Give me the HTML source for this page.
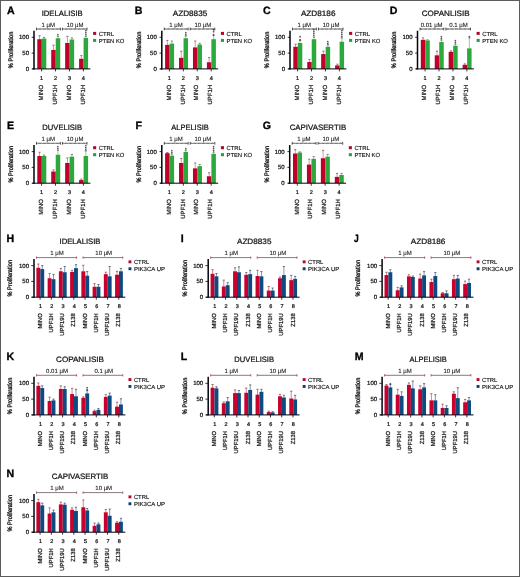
<!DOCTYPE html>
<html lang="en"><head><meta charset="utf-8"><title>Figure</title>
<style>html,body{margin:0;padding:0;background:#fff}svg{display:block;filter:blur(0.45px)}</style>
</head><body>
<svg width="520" height="577" viewBox="0 0 520 577" font-family="'Liberation Sans', Arial, Helvetica, sans-serif" text-rendering="geometricPrecision">
<rect x="0" y="0" width="520" height="577" fill="#fff"/>
<g>
<text transform="translate(7 14.2) scale(1 1)" font-size="10.6" font-weight="bold" fill="#000" stroke="#000" stroke-width="0.32">A</text>
<text x="62.2" y="15.5" font-size="7.8" text-anchor="middle" font-weight="normal" fill="#111" stroke="#111" stroke-width="0.22" textLength="41" lengthAdjust="spacingAndGlyphs">IDELALISIB</text>
<text x="48.2" y="26.6" font-size="6" text-anchor="middle" fill="#1a1a1a" stroke="#1a1a1a" stroke-width="0.1">1 μM</text>
<text x="75.1" y="26.6" font-size="6" text-anchor="middle" fill="#1a1a1a" stroke="#1a1a1a" stroke-width="0.1">10 μM</text>
<line x1="36.5" y1="29" x2="60.3" y2="29" stroke="#858585" stroke-width="0.8"/>
<line x1="36.5" y1="29" x2="60.3" y2="29" stroke="#505050" stroke-width="1.3" stroke-dasharray="0.55 0.75"/>
<line x1="36.5" y1="27.6" x2="36.5" y2="30.4" stroke="#333" stroke-width="0.8"/>
<line x1="60.3" y1="27.6" x2="60.3" y2="30.4" stroke="#333" stroke-width="0.8"/>
<line x1="62.4" y1="29" x2="87" y2="29" stroke="#858585" stroke-width="0.8"/>
<line x1="62.4" y1="29" x2="87" y2="29" stroke="#505050" stroke-width="1.3" stroke-dasharray="0.55 0.75"/>
<line x1="62.4" y1="27.6" x2="62.4" y2="30.4" stroke="#333" stroke-width="0.8"/>
<line x1="87" y1="27.6" x2="87" y2="30.4" stroke="#333" stroke-width="0.8"/>
<line x1="39.55" y1="35.72" x2="39.55" y2="39.5" stroke="#c0607a" stroke-width="0.65"/>
<line x1="38.45" y1="35.72" x2="40.65" y2="35.72" stroke="#7a3844" stroke-width="0.7"/>
<rect x="37.3" y="39.2" width="4.5" height="29.7" fill="#c00028"/>
<line x1="44.05" y1="37.3" x2="44.05" y2="38.86" stroke="#6fa87a" stroke-width="0.65"/>
<line x1="42.95" y1="37.3" x2="45.15" y2="37.3" stroke="#3f5a48" stroke-width="0.7"/>
<rect x="41.8" y="38.56" width="4.5" height="30.34" fill="#2ca83c"/>
<line x1="53.48" y1="45.2" x2="53.48" y2="50.24" stroke="#c0607a" stroke-width="0.65"/>
<line x1="52.38" y1="45.2" x2="54.58" y2="45.2" stroke="#7a3844" stroke-width="0.7"/>
<rect x="51.23" y="49.94" width="4.5" height="18.96" fill="#c00028"/>
<line x1="57.98" y1="36.35" x2="57.98" y2="38.55" stroke="#6fa87a" stroke-width="0.65"/>
<line x1="56.88" y1="36.35" x2="59.08" y2="36.35" stroke="#3f5a48" stroke-width="0.7"/>
<rect x="55.73" y="38.25" width="4.5" height="30.65" fill="#2ca83c"/>
<text x="57.98" y="37.45" font-size="4.5" text-anchor="middle" fill="#2e1014" stroke="#2e1014" stroke-width="0.12">*</text>
<line x1="67.41" y1="36.35" x2="67.41" y2="43.29" stroke="#c0607a" stroke-width="0.65"/>
<line x1="66.31" y1="36.35" x2="68.51" y2="36.35" stroke="#7a3844" stroke-width="0.7"/>
<rect x="65.16" y="42.99" width="4.5" height="25.91" fill="#c00028"/>
<line x1="71.91" y1="37.93" x2="71.91" y2="39.81" stroke="#6fa87a" stroke-width="0.65"/>
<line x1="70.81" y1="37.93" x2="73.01" y2="37.93" stroke="#3f5a48" stroke-width="0.7"/>
<rect x="69.66" y="39.51" width="4.5" height="29.39" fill="#2ca83c"/>
<line x1="81.34" y1="55.63" x2="81.34" y2="59.09" stroke="#c0607a" stroke-width="0.65"/>
<line x1="80.24" y1="55.63" x2="82.44" y2="55.63" stroke="#7a3844" stroke-width="0.7"/>
<rect x="79.09" y="58.79" width="4.5" height="10.11" fill="#c00028"/>
<line x1="85.84" y1="36.35" x2="85.84" y2="38.23" stroke="#6fa87a" stroke-width="0.65"/>
<line x1="84.74" y1="36.35" x2="86.94" y2="36.35" stroke="#3f5a48" stroke-width="0.7"/>
<rect x="83.59" y="37.93" width="4.5" height="30.97" fill="#2ca83c"/>
<text x="85.84" y="37.45" font-size="4.5" text-anchor="middle" fill="#2e1014" stroke="#2e1014" stroke-width="0.12">*</text>
<text x="85.84" y="35.35" font-size="4.5" text-anchor="middle" fill="#2e1014" stroke="#2e1014" stroke-width="0.12">*</text>
<text x="85.84" y="33.25" font-size="4.5" text-anchor="middle" fill="#2e1014" stroke="#2e1014" stroke-width="0.12">*</text>
<line x1="34" y1="30.78" x2="34" y2="69.4" stroke="#02020c" stroke-width="1.5"/>
<line x1="32.4" y1="68.9" x2="90.4" y2="68.9" stroke="#02020c" stroke-width="1.0"/>
<line x1="31.7" y1="68.9" x2="34.2" y2="68.9" stroke="#02020c" stroke-width="0.8"/>
<text x="29" y="70.95" font-size="6.0" text-anchor="end" font-weight="normal" fill="#111" stroke="#111" stroke-width="0.22">0</text>
<line x1="31.7" y1="53.1" x2="34.2" y2="53.1" stroke="#02020c" stroke-width="0.8"/>
<text x="29" y="55.15" font-size="6.0" text-anchor="end" font-weight="normal" fill="#111" stroke="#111" stroke-width="0.22">50</text>
<line x1="31.7" y1="37.3" x2="34.2" y2="37.3" stroke="#02020c" stroke-width="0.8"/>
<text x="29" y="39.35" font-size="6.0" text-anchor="end" font-weight="normal" fill="#111" stroke="#111" stroke-width="0.22">100</text>
<text transform="translate(12.9 49.9) rotate(-90)" font-size="6.5" text-anchor="middle" fill="#111" stroke="#111" stroke-width="0.32" textLength="36.5" lengthAdjust="spacingAndGlyphs">% Proliferation</text>
<line x1="41.6" y1="68.9" x2="41.6" y2="71.4" stroke="#02020c" stroke-width="0.8"/>
<text x="41.6" y="80" font-size="5.5" text-anchor="middle" font-weight="normal" fill="#111" stroke="#111" stroke-width="0.22">1</text>
<text transform="translate(42.8 84.9) rotate(-90)" font-size="6.0" text-anchor="end" fill="#111" stroke="#111" stroke-width="0.22">MINO</text>
<line x1="55.53" y1="68.9" x2="55.53" y2="71.4" stroke="#02020c" stroke-width="0.8"/>
<text x="55.53" y="80" font-size="5.5" text-anchor="middle" font-weight="normal" fill="#111" stroke="#111" stroke-width="0.22">2</text>
<text transform="translate(56.73 84.9) rotate(-90)" font-size="6.0" text-anchor="end" fill="#111" stroke="#111" stroke-width="0.22">UPF1H</text>
<line x1="69.46" y1="68.9" x2="69.46" y2="71.4" stroke="#02020c" stroke-width="0.8"/>
<text x="69.46" y="80" font-size="5.5" text-anchor="middle" font-weight="normal" fill="#111" stroke="#111" stroke-width="0.22">3</text>
<text transform="translate(70.66 84.9) rotate(-90)" font-size="6.0" text-anchor="end" fill="#111" stroke="#111" stroke-width="0.22">MINO</text>
<line x1="83.39" y1="68.9" x2="83.39" y2="71.4" stroke="#02020c" stroke-width="0.8"/>
<text x="83.39" y="80" font-size="5.5" text-anchor="middle" font-weight="normal" fill="#111" stroke="#111" stroke-width="0.22">4</text>
<text transform="translate(84.59 84.9) rotate(-90)" font-size="6.0" text-anchor="end" fill="#111" stroke="#111" stroke-width="0.22">UPF1H</text>
<rect x="93.1" y="31.9" width="3.1" height="3" fill="#b4062a"/>
<text x="98.7" y="35.7" font-size="5.85" fill="#111" stroke="#111" stroke-width="0.14">CTRL</text>
<rect x="93.1" y="38.9" width="3.1" height="3" fill="#2a9a3c"/>
<text x="98.7" y="42.7" font-size="5.85" fill="#111" stroke="#111" stroke-width="0.14">PTEN KO</text>
</g>
<g>
<text transform="translate(134.8 14.2) scale(1 1)" font-size="10.6" font-weight="bold" fill="#000" stroke="#000" stroke-width="0.32">B</text>
<text x="190" y="15.5" font-size="7.8" text-anchor="middle" font-weight="normal" fill="#111" stroke="#111" stroke-width="0.22" textLength="34.5" lengthAdjust="spacingAndGlyphs">AZD8835</text>
<text x="176" y="26.6" font-size="6" text-anchor="middle" fill="#1a1a1a" stroke="#1a1a1a" stroke-width="0.1">1 μM</text>
<text x="202.9" y="26.6" font-size="6" text-anchor="middle" fill="#1a1a1a" stroke="#1a1a1a" stroke-width="0.1">10 μM</text>
<line x1="164.3" y1="29" x2="188.1" y2="29" stroke="#858585" stroke-width="0.8"/>
<line x1="164.3" y1="29" x2="188.1" y2="29" stroke="#505050" stroke-width="1.3" stroke-dasharray="0.55 0.75"/>
<line x1="164.3" y1="27.6" x2="164.3" y2="30.4" stroke="#333" stroke-width="0.8"/>
<line x1="188.1" y1="27.6" x2="188.1" y2="30.4" stroke="#333" stroke-width="0.8"/>
<line x1="190.2" y1="29" x2="214.8" y2="29" stroke="#858585" stroke-width="0.8"/>
<line x1="190.2" y1="29" x2="214.8" y2="29" stroke="#505050" stroke-width="1.3" stroke-dasharray="0.55 0.75"/>
<line x1="190.2" y1="27.6" x2="190.2" y2="30.4" stroke="#333" stroke-width="0.8"/>
<line x1="214.8" y1="27.6" x2="214.8" y2="30.4" stroke="#333" stroke-width="0.8"/>
<line x1="167.35" y1="40.46" x2="167.35" y2="45.18" stroke="#c0607a" stroke-width="0.65"/>
<line x1="166.25" y1="40.46" x2="168.45" y2="40.46" stroke="#7a3844" stroke-width="0.7"/>
<rect x="165.1" y="44.88" width="4.5" height="24.02" fill="#c00028"/>
<line x1="171.85" y1="41.09" x2="171.85" y2="43.92" stroke="#6fa87a" stroke-width="0.65"/>
<line x1="170.75" y1="41.09" x2="172.95" y2="41.09" stroke="#3f5a48" stroke-width="0.7"/>
<rect x="169.6" y="43.62" width="4.5" height="25.28" fill="#2ca83c"/>
<line x1="181.28" y1="51.2" x2="181.28" y2="58.14" stroke="#c0607a" stroke-width="0.65"/>
<line x1="180.18" y1="51.2" x2="182.38" y2="51.2" stroke="#7a3844" stroke-width="0.7"/>
<rect x="179.03" y="57.84" width="4.5" height="11.06" fill="#c00028"/>
<line x1="185.78" y1="36.04" x2="185.78" y2="38.55" stroke="#6fa87a" stroke-width="0.65"/>
<line x1="184.68" y1="36.04" x2="186.88" y2="36.04" stroke="#3f5a48" stroke-width="0.7"/>
<rect x="183.53" y="38.25" width="4.5" height="30.65" fill="#2ca83c"/>
<text x="185.78" y="37.14" font-size="4.5" text-anchor="middle" fill="#2e1014" stroke="#2e1014" stroke-width="0.12">*</text>
<text x="185.78" y="35.04" font-size="4.5" text-anchor="middle" fill="#2e1014" stroke="#2e1014" stroke-width="0.12">*</text>
<line x1="195.21" y1="41.09" x2="195.21" y2="47.71" stroke="#c0607a" stroke-width="0.65"/>
<line x1="194.11" y1="41.09" x2="196.31" y2="41.09" stroke="#7a3844" stroke-width="0.7"/>
<rect x="192.96" y="47.41" width="4.5" height="21.49" fill="#c00028"/>
<line x1="199.71" y1="43.3" x2="199.71" y2="44.87" stroke="#6fa87a" stroke-width="0.65"/>
<line x1="198.61" y1="43.3" x2="200.81" y2="43.3" stroke="#3f5a48" stroke-width="0.7"/>
<rect x="197.46" y="44.57" width="4.5" height="24.33" fill="#2ca83c"/>
<line x1="209.14" y1="57.52" x2="209.14" y2="62.56" stroke="#c0607a" stroke-width="0.65"/>
<line x1="208.04" y1="57.52" x2="210.24" y2="57.52" stroke="#7a3844" stroke-width="0.7"/>
<rect x="206.89" y="62.26" width="4.5" height="6.64" fill="#c00028"/>
<line x1="213.64" y1="35.4" x2="213.64" y2="39.5" stroke="#6fa87a" stroke-width="0.65"/>
<line x1="212.54" y1="35.4" x2="214.74" y2="35.4" stroke="#3f5a48" stroke-width="0.7"/>
<rect x="211.39" y="39.2" width="4.5" height="29.7" fill="#2ca83c"/>
<text x="213.64" y="36.5" font-size="4.5" text-anchor="middle" fill="#2e1014" stroke="#2e1014" stroke-width="0.12">*</text>
<text x="213.64" y="34.4" font-size="4.5" text-anchor="middle" fill="#2e1014" stroke="#2e1014" stroke-width="0.12">*</text>
<text x="213.64" y="32.3" font-size="4.5" text-anchor="middle" fill="#2e1014" stroke="#2e1014" stroke-width="0.12">*</text>
<line x1="161.8" y1="30.78" x2="161.8" y2="69.4" stroke="#02020c" stroke-width="1.5"/>
<line x1="160.2" y1="68.9" x2="218.2" y2="68.9" stroke="#02020c" stroke-width="1.0"/>
<line x1="159.5" y1="68.9" x2="162" y2="68.9" stroke="#02020c" stroke-width="0.8"/>
<text x="156.8" y="70.95" font-size="6.0" text-anchor="end" font-weight="normal" fill="#111" stroke="#111" stroke-width="0.22">0</text>
<line x1="159.5" y1="53.1" x2="162" y2="53.1" stroke="#02020c" stroke-width="0.8"/>
<text x="156.8" y="55.15" font-size="6.0" text-anchor="end" font-weight="normal" fill="#111" stroke="#111" stroke-width="0.22">50</text>
<line x1="159.5" y1="37.3" x2="162" y2="37.3" stroke="#02020c" stroke-width="0.8"/>
<text x="156.8" y="39.35" font-size="6.0" text-anchor="end" font-weight="normal" fill="#111" stroke="#111" stroke-width="0.22">100</text>
<text transform="translate(140.7 49.9) rotate(-90)" font-size="6.5" text-anchor="middle" fill="#111" stroke="#111" stroke-width="0.32" textLength="36.5" lengthAdjust="spacingAndGlyphs">% Proliferation</text>
<line x1="169.4" y1="68.9" x2="169.4" y2="71.4" stroke="#02020c" stroke-width="0.8"/>
<text x="169.4" y="80" font-size="5.5" text-anchor="middle" font-weight="normal" fill="#111" stroke="#111" stroke-width="0.22">1</text>
<text transform="translate(170.6 84.9) rotate(-90)" font-size="6.0" text-anchor="end" fill="#111" stroke="#111" stroke-width="0.22">MINO</text>
<line x1="183.33" y1="68.9" x2="183.33" y2="71.4" stroke="#02020c" stroke-width="0.8"/>
<text x="183.33" y="80" font-size="5.5" text-anchor="middle" font-weight="normal" fill="#111" stroke="#111" stroke-width="0.22">2</text>
<text transform="translate(184.53 84.9) rotate(-90)" font-size="6.0" text-anchor="end" fill="#111" stroke="#111" stroke-width="0.22">UPF1H</text>
<line x1="197.26" y1="68.9" x2="197.26" y2="71.4" stroke="#02020c" stroke-width="0.8"/>
<text x="197.26" y="80" font-size="5.5" text-anchor="middle" font-weight="normal" fill="#111" stroke="#111" stroke-width="0.22">3</text>
<text transform="translate(198.46 84.9) rotate(-90)" font-size="6.0" text-anchor="end" fill="#111" stroke="#111" stroke-width="0.22">MINO</text>
<line x1="211.19" y1="68.9" x2="211.19" y2="71.4" stroke="#02020c" stroke-width="0.8"/>
<text x="211.19" y="80" font-size="5.5" text-anchor="middle" font-weight="normal" fill="#111" stroke="#111" stroke-width="0.22">4</text>
<text transform="translate(212.39 84.9) rotate(-90)" font-size="6.0" text-anchor="end" fill="#111" stroke="#111" stroke-width="0.22">UPF1H</text>
<rect x="220.9" y="31.9" width="3.1" height="3" fill="#b4062a"/>
<text x="226.5" y="35.7" font-size="5.85" fill="#111" stroke="#111" stroke-width="0.14">CTRL</text>
<rect x="220.9" y="38.9" width="3.1" height="3" fill="#2a9a3c"/>
<text x="226.5" y="42.7" font-size="5.85" fill="#111" stroke="#111" stroke-width="0.14">PTEN KO</text>
</g>
<g>
<text transform="translate(263 14.2) scale(1 1)" font-size="10.6" font-weight="bold" fill="#000" stroke="#000" stroke-width="0.32">C</text>
<text x="318.2" y="15.5" font-size="7.8" text-anchor="middle" font-weight="normal" fill="#111" stroke="#111" stroke-width="0.22" textLength="34.6" lengthAdjust="spacingAndGlyphs">AZD8186</text>
<text x="304.2" y="26.6" font-size="6" text-anchor="middle" fill="#1a1a1a" stroke="#1a1a1a" stroke-width="0.1">1 μM</text>
<text x="331.1" y="26.6" font-size="6" text-anchor="middle" fill="#1a1a1a" stroke="#1a1a1a" stroke-width="0.1">10 μM</text>
<line x1="292.5" y1="29" x2="316.3" y2="29" stroke="#858585" stroke-width="0.8"/>
<line x1="292.5" y1="29" x2="316.3" y2="29" stroke="#505050" stroke-width="1.3" stroke-dasharray="0.55 0.75"/>
<line x1="292.5" y1="27.6" x2="292.5" y2="30.4" stroke="#333" stroke-width="0.8"/>
<line x1="316.3" y1="27.6" x2="316.3" y2="30.4" stroke="#333" stroke-width="0.8"/>
<line x1="318.4" y1="29" x2="343" y2="29" stroke="#858585" stroke-width="0.8"/>
<line x1="318.4" y1="29" x2="343" y2="29" stroke="#505050" stroke-width="1.3" stroke-dasharray="0.55 0.75"/>
<line x1="318.4" y1="27.6" x2="318.4" y2="30.4" stroke="#333" stroke-width="0.8"/>
<line x1="343" y1="27.6" x2="343" y2="30.4" stroke="#333" stroke-width="0.8"/>
<line x1="295.55" y1="44.25" x2="295.55" y2="47.08" stroke="#c0607a" stroke-width="0.65"/>
<line x1="294.45" y1="44.25" x2="296.65" y2="44.25" stroke="#7a3844" stroke-width="0.7"/>
<rect x="293.3" y="46.78" width="4.5" height="22.12" fill="#c00028"/>
<line x1="300.05" y1="40.46" x2="300.05" y2="43.29" stroke="#6fa87a" stroke-width="0.65"/>
<line x1="298.95" y1="40.46" x2="301.15" y2="40.46" stroke="#3f5a48" stroke-width="0.7"/>
<rect x="297.8" y="42.99" width="4.5" height="25.91" fill="#2ca83c"/>
<text x="300.05" y="41.56" font-size="4.5" text-anchor="middle" fill="#2e1014" stroke="#2e1014" stroke-width="0.12">*</text>
<text x="300.05" y="39.46" font-size="4.5" text-anchor="middle" fill="#2e1014" stroke="#2e1014" stroke-width="0.12">*</text>
<line x1="309.48" y1="59.42" x2="309.48" y2="62.25" stroke="#c0607a" stroke-width="0.65"/>
<line x1="308.38" y1="59.42" x2="310.58" y2="59.42" stroke="#7a3844" stroke-width="0.7"/>
<rect x="307.23" y="61.95" width="4.5" height="6.95" fill="#c00028"/>
<line x1="313.98" y1="37.3" x2="313.98" y2="39.5" stroke="#6fa87a" stroke-width="0.65"/>
<line x1="312.88" y1="37.3" x2="315.08" y2="37.3" stroke="#3f5a48" stroke-width="0.7"/>
<rect x="311.73" y="39.2" width="4.5" height="29.7" fill="#2ca83c"/>
<text x="313.98" y="38.4" font-size="4.5" text-anchor="middle" fill="#2e1014" stroke="#2e1014" stroke-width="0.12">*</text>
<text x="313.98" y="36.3" font-size="4.5" text-anchor="middle" fill="#2e1014" stroke="#2e1014" stroke-width="0.12">*</text>
<text x="313.98" y="34.2" font-size="4.5" text-anchor="middle" fill="#2e1014" stroke="#2e1014" stroke-width="0.12">*</text>
<text x="313.98" y="32.1" font-size="4.5" text-anchor="middle" fill="#2e1014" stroke="#2e1014" stroke-width="0.12">*</text>
<line x1="323.41" y1="51.2" x2="323.41" y2="54.35" stroke="#c0607a" stroke-width="0.65"/>
<line x1="322.31" y1="51.2" x2="324.51" y2="51.2" stroke="#7a3844" stroke-width="0.7"/>
<rect x="321.16" y="54.05" width="4.5" height="14.85" fill="#c00028"/>
<line x1="327.91" y1="44.88" x2="327.91" y2="47.08" stroke="#6fa87a" stroke-width="0.65"/>
<line x1="326.81" y1="44.88" x2="329.01" y2="44.88" stroke="#3f5a48" stroke-width="0.7"/>
<rect x="325.66" y="46.78" width="4.5" height="22.12" fill="#2ca83c"/>
<text x="327.91" y="45.98" font-size="4.5" text-anchor="middle" fill="#2e1014" stroke="#2e1014" stroke-width="0.12">*</text>
<text x="327.91" y="43.88" font-size="4.5" text-anchor="middle" fill="#2e1014" stroke="#2e1014" stroke-width="0.12">*</text>
<line x1="337.34" y1="64.16" x2="337.34" y2="65.72" stroke="#c0607a" stroke-width="0.65"/>
<line x1="336.24" y1="64.16" x2="338.44" y2="64.16" stroke="#7a3844" stroke-width="0.7"/>
<rect x="335.09" y="65.42" width="4.5" height="3.48" fill="#c00028"/>
<line x1="341.84" y1="37.93" x2="341.84" y2="42.02" stroke="#6fa87a" stroke-width="0.65"/>
<line x1="340.74" y1="37.93" x2="342.94" y2="37.93" stroke="#3f5a48" stroke-width="0.7"/>
<rect x="339.59" y="41.72" width="4.5" height="27.18" fill="#2ca83c"/>
<text x="341.84" y="39.03" font-size="4.5" text-anchor="middle" fill="#2e1014" stroke="#2e1014" stroke-width="0.12">*</text>
<text x="341.84" y="36.93" font-size="4.5" text-anchor="middle" fill="#2e1014" stroke="#2e1014" stroke-width="0.12">*</text>
<text x="341.84" y="34.83" font-size="4.5" text-anchor="middle" fill="#2e1014" stroke="#2e1014" stroke-width="0.12">*</text>
<text x="341.84" y="32.73" font-size="4.5" text-anchor="middle" fill="#2e1014" stroke="#2e1014" stroke-width="0.12">*</text>
<line x1="290" y1="30.78" x2="290" y2="69.4" stroke="#02020c" stroke-width="1.5"/>
<line x1="288.4" y1="68.9" x2="346.4" y2="68.9" stroke="#02020c" stroke-width="1.0"/>
<line x1="287.7" y1="68.9" x2="290.2" y2="68.9" stroke="#02020c" stroke-width="0.8"/>
<text x="285" y="70.95" font-size="6.0" text-anchor="end" font-weight="normal" fill="#111" stroke="#111" stroke-width="0.22">0</text>
<line x1="287.7" y1="53.1" x2="290.2" y2="53.1" stroke="#02020c" stroke-width="0.8"/>
<text x="285" y="55.15" font-size="6.0" text-anchor="end" font-weight="normal" fill="#111" stroke="#111" stroke-width="0.22">50</text>
<line x1="287.7" y1="37.3" x2="290.2" y2="37.3" stroke="#02020c" stroke-width="0.8"/>
<text x="285" y="39.35" font-size="6.0" text-anchor="end" font-weight="normal" fill="#111" stroke="#111" stroke-width="0.22">100</text>
<text transform="translate(268.9 49.9) rotate(-90)" font-size="6.5" text-anchor="middle" fill="#111" stroke="#111" stroke-width="0.32" textLength="36.5" lengthAdjust="spacingAndGlyphs">% Proliferation</text>
<line x1="297.6" y1="68.9" x2="297.6" y2="71.4" stroke="#02020c" stroke-width="0.8"/>
<text x="297.6" y="80" font-size="5.5" text-anchor="middle" font-weight="normal" fill="#111" stroke="#111" stroke-width="0.22">1</text>
<text transform="translate(298.8 84.9) rotate(-90)" font-size="6.0" text-anchor="end" fill="#111" stroke="#111" stroke-width="0.22">MINO</text>
<line x1="311.53" y1="68.9" x2="311.53" y2="71.4" stroke="#02020c" stroke-width="0.8"/>
<text x="311.53" y="80" font-size="5.5" text-anchor="middle" font-weight="normal" fill="#111" stroke="#111" stroke-width="0.22">2</text>
<text transform="translate(312.73 84.9) rotate(-90)" font-size="6.0" text-anchor="end" fill="#111" stroke="#111" stroke-width="0.22">UPF1H</text>
<line x1="325.46" y1="68.9" x2="325.46" y2="71.4" stroke="#02020c" stroke-width="0.8"/>
<text x="325.46" y="80" font-size="5.5" text-anchor="middle" font-weight="normal" fill="#111" stroke="#111" stroke-width="0.22">3</text>
<text transform="translate(326.66 84.9) rotate(-90)" font-size="6.0" text-anchor="end" fill="#111" stroke="#111" stroke-width="0.22">MINO</text>
<line x1="339.39" y1="68.9" x2="339.39" y2="71.4" stroke="#02020c" stroke-width="0.8"/>
<text x="339.39" y="80" font-size="5.5" text-anchor="middle" font-weight="normal" fill="#111" stroke="#111" stroke-width="0.22">4</text>
<text transform="translate(340.59 84.9) rotate(-90)" font-size="6.0" text-anchor="end" fill="#111" stroke="#111" stroke-width="0.22">UPF1H</text>
<rect x="349.1" y="31.9" width="3.1" height="3" fill="#b4062a"/>
<text x="354.7" y="35.7" font-size="5.85" fill="#111" stroke="#111" stroke-width="0.14">CTRL</text>
<rect x="349.1" y="38.9" width="3.1" height="3" fill="#2a9a3c"/>
<text x="354.7" y="42.7" font-size="5.85" fill="#111" stroke="#111" stroke-width="0.14">PTEN KO</text>
</g>
<g>
<text transform="translate(389.7 14.2) scale(1 1)" font-size="10.6" font-weight="bold" fill="#000" stroke="#000" stroke-width="0.32">D</text>
<text x="445.7" y="15.5" font-size="7.8" text-anchor="middle" font-weight="normal" fill="#111" stroke="#111" stroke-width="0.22" textLength="47.9" lengthAdjust="spacingAndGlyphs">COPANLISIB</text>
<text x="431.7" y="26.6" font-size="6" text-anchor="middle" fill="#1a1a1a" stroke="#1a1a1a" stroke-width="0.1">0.01 μM</text>
<text x="458.6" y="26.6" font-size="6" text-anchor="middle" fill="#1a1a1a" stroke="#1a1a1a" stroke-width="0.1">0.1 μM</text>
<line x1="420" y1="29" x2="443.8" y2="29" stroke="#858585" stroke-width="0.8"/>
<line x1="420" y1="29" x2="443.8" y2="29" stroke="#505050" stroke-width="1.3" stroke-dasharray="0.55 0.75"/>
<line x1="420" y1="27.6" x2="420" y2="30.4" stroke="#333" stroke-width="0.8"/>
<line x1="443.8" y1="27.6" x2="443.8" y2="30.4" stroke="#333" stroke-width="0.8"/>
<line x1="445.9" y1="29" x2="470.5" y2="29" stroke="#858585" stroke-width="0.8"/>
<line x1="445.9" y1="29" x2="470.5" y2="29" stroke="#505050" stroke-width="1.3" stroke-dasharray="0.55 0.75"/>
<line x1="445.9" y1="27.6" x2="445.9" y2="30.4" stroke="#333" stroke-width="0.8"/>
<line x1="470.5" y1="27.6" x2="470.5" y2="30.4" stroke="#333" stroke-width="0.8"/>
<line x1="423.05" y1="37.93" x2="423.05" y2="40.13" stroke="#c0607a" stroke-width="0.65"/>
<line x1="421.95" y1="37.93" x2="424.15" y2="37.93" stroke="#7a3844" stroke-width="0.7"/>
<rect x="420.8" y="39.83" width="4.5" height="29.07" fill="#c00028"/>
<line x1="427.55" y1="39.83" x2="427.55" y2="40.76" stroke="#6fa87a" stroke-width="0.65"/>
<line x1="426.45" y1="39.83" x2="428.65" y2="39.83" stroke="#3f5a48" stroke-width="0.7"/>
<rect x="425.3" y="40.46" width="4.5" height="28.44" fill="#2ca83c"/>
<line x1="436.98" y1="51.2" x2="436.98" y2="55.61" stroke="#c0607a" stroke-width="0.65"/>
<line x1="435.88" y1="51.2" x2="438.08" y2="51.2" stroke="#7a3844" stroke-width="0.7"/>
<rect x="434.73" y="55.31" width="4.5" height="13.59" fill="#c00028"/>
<line x1="441.48" y1="40.14" x2="441.48" y2="42.34" stroke="#6fa87a" stroke-width="0.65"/>
<line x1="440.38" y1="40.14" x2="442.58" y2="40.14" stroke="#3f5a48" stroke-width="0.7"/>
<rect x="439.23" y="42.04" width="4.5" height="26.86" fill="#2ca83c"/>
<text x="441.48" y="41.24" font-size="4.5" text-anchor="middle" fill="#2e1014" stroke="#2e1014" stroke-width="0.12">*</text>
<text x="441.48" y="39.14" font-size="4.5" text-anchor="middle" fill="#2e1014" stroke="#2e1014" stroke-width="0.12">*</text>
<line x1="450.91" y1="50.89" x2="450.91" y2="52.14" stroke="#c0607a" stroke-width="0.65"/>
<line x1="449.81" y1="50.89" x2="452.01" y2="50.89" stroke="#7a3844" stroke-width="0.7"/>
<rect x="448.66" y="51.84" width="4.5" height="17.06" fill="#c00028"/>
<line x1="455.41" y1="44.25" x2="455.41" y2="46.13" stroke="#6fa87a" stroke-width="0.65"/>
<line x1="454.31" y1="44.25" x2="456.51" y2="44.25" stroke="#3f5a48" stroke-width="0.7"/>
<rect x="453.16" y="45.83" width="4.5" height="23.07" fill="#2ca83c"/>
<text x="455.41" y="45.35" font-size="4.5" text-anchor="middle" fill="#2e1014" stroke="#2e1014" stroke-width="0.12">*</text>
<text x="455.41" y="43.25" font-size="4.5" text-anchor="middle" fill="#2e1014" stroke="#2e1014" stroke-width="0.12">*</text>
<line x1="464.84" y1="63.84" x2="464.84" y2="65.09" stroke="#c0607a" stroke-width="0.65"/>
<line x1="463.74" y1="63.84" x2="465.94" y2="63.84" stroke="#7a3844" stroke-width="0.7"/>
<rect x="462.59" y="64.79" width="4.5" height="4.11" fill="#c00028"/>
<line x1="469.34" y1="37.93" x2="469.34" y2="48.66" stroke="#6fa87a" stroke-width="0.65"/>
<line x1="468.24" y1="37.93" x2="470.44" y2="37.93" stroke="#3f5a48" stroke-width="0.7"/>
<rect x="467.09" y="48.36" width="4.5" height="20.54" fill="#2ca83c"/>
<text x="469.34" y="39.03" font-size="4.5" text-anchor="middle" fill="#2e1014" stroke="#2e1014" stroke-width="0.12">*</text>
<line x1="417.5" y1="30.78" x2="417.5" y2="69.4" stroke="#02020c" stroke-width="1.5"/>
<line x1="415.9" y1="68.9" x2="473.9" y2="68.9" stroke="#02020c" stroke-width="1.0"/>
<line x1="415.2" y1="68.9" x2="417.7" y2="68.9" stroke="#02020c" stroke-width="0.8"/>
<text x="412.5" y="70.95" font-size="6.0" text-anchor="end" font-weight="normal" fill="#111" stroke="#111" stroke-width="0.22">0</text>
<line x1="415.2" y1="53.1" x2="417.7" y2="53.1" stroke="#02020c" stroke-width="0.8"/>
<text x="412.5" y="55.15" font-size="6.0" text-anchor="end" font-weight="normal" fill="#111" stroke="#111" stroke-width="0.22">50</text>
<line x1="415.2" y1="37.3" x2="417.7" y2="37.3" stroke="#02020c" stroke-width="0.8"/>
<text x="412.5" y="39.35" font-size="6.0" text-anchor="end" font-weight="normal" fill="#111" stroke="#111" stroke-width="0.22">100</text>
<text transform="translate(396.4 49.9) rotate(-90)" font-size="6.5" text-anchor="middle" fill="#111" stroke="#111" stroke-width="0.32" textLength="36.5" lengthAdjust="spacingAndGlyphs">% Proliferation</text>
<line x1="425.1" y1="68.9" x2="425.1" y2="71.4" stroke="#02020c" stroke-width="0.8"/>
<text x="425.1" y="80" font-size="5.5" text-anchor="middle" font-weight="normal" fill="#111" stroke="#111" stroke-width="0.22">1</text>
<text transform="translate(426.3 84.9) rotate(-90)" font-size="6.0" text-anchor="end" fill="#111" stroke="#111" stroke-width="0.22">MINO</text>
<line x1="439.03" y1="68.9" x2="439.03" y2="71.4" stroke="#02020c" stroke-width="0.8"/>
<text x="439.03" y="80" font-size="5.5" text-anchor="middle" font-weight="normal" fill="#111" stroke="#111" stroke-width="0.22">2</text>
<text transform="translate(440.23 84.9) rotate(-90)" font-size="6.0" text-anchor="end" fill="#111" stroke="#111" stroke-width="0.22">UPF1H</text>
<line x1="452.96" y1="68.9" x2="452.96" y2="71.4" stroke="#02020c" stroke-width="0.8"/>
<text x="452.96" y="80" font-size="5.5" text-anchor="middle" font-weight="normal" fill="#111" stroke="#111" stroke-width="0.22">3</text>
<text transform="translate(454.16 84.9) rotate(-90)" font-size="6.0" text-anchor="end" fill="#111" stroke="#111" stroke-width="0.22">MINO</text>
<line x1="466.89" y1="68.9" x2="466.89" y2="71.4" stroke="#02020c" stroke-width="0.8"/>
<text x="466.89" y="80" font-size="5.5" text-anchor="middle" font-weight="normal" fill="#111" stroke="#111" stroke-width="0.22">4</text>
<text transform="translate(468.09 84.9) rotate(-90)" font-size="6.0" text-anchor="end" fill="#111" stroke="#111" stroke-width="0.22">UPF1H</text>
<rect x="476.6" y="31.9" width="3.1" height="3" fill="#b4062a"/>
<text x="482.2" y="35.7" font-size="5.85" fill="#111" stroke="#111" stroke-width="0.14">CTRL</text>
<rect x="476.6" y="38.9" width="3.1" height="3" fill="#2a9a3c"/>
<text x="482.2" y="42.7" font-size="5.85" fill="#111" stroke="#111" stroke-width="0.14">PTEN KO</text>
</g>
<g>
<text transform="translate(7 128.5) scale(1 1)" font-size="10.6" font-weight="bold" fill="#000" stroke="#000" stroke-width="0.32">E</text>
<text x="62.2" y="130.2" font-size="7.8" text-anchor="middle" font-weight="normal" fill="#111" stroke="#111" stroke-width="0.22" textLength="39.7" lengthAdjust="spacingAndGlyphs">DUVELISIB</text>
<text x="48.2" y="140.9" font-size="6" text-anchor="middle" fill="#1a1a1a" stroke="#1a1a1a" stroke-width="0.1">1 μM</text>
<text x="75.1" y="140.9" font-size="6" text-anchor="middle" fill="#1a1a1a" stroke="#1a1a1a" stroke-width="0.1">10 μM</text>
<line x1="36.5" y1="143.3" x2="60.3" y2="143.3" stroke="#858585" stroke-width="0.8"/>
<line x1="36.5" y1="143.3" x2="60.3" y2="143.3" stroke="#505050" stroke-width="1.3" stroke-dasharray="0.55 0.75"/>
<line x1="36.5" y1="141.9" x2="36.5" y2="144.7" stroke="#333" stroke-width="0.8"/>
<line x1="60.3" y1="141.9" x2="60.3" y2="144.7" stroke="#333" stroke-width="0.8"/>
<line x1="62.4" y1="143.3" x2="87" y2="143.3" stroke="#858585" stroke-width="0.8"/>
<line x1="62.4" y1="143.3" x2="87" y2="143.3" stroke="#505050" stroke-width="1.3" stroke-dasharray="0.55 0.75"/>
<line x1="62.4" y1="141.9" x2="62.4" y2="144.7" stroke="#333" stroke-width="0.8"/>
<line x1="87" y1="141.9" x2="87" y2="144.7" stroke="#333" stroke-width="0.8"/>
<line x1="39.55" y1="152.23" x2="39.55" y2="156.32" stroke="#c0607a" stroke-width="0.65"/>
<line x1="38.45" y1="152.23" x2="40.65" y2="152.23" stroke="#7a3844" stroke-width="0.7"/>
<rect x="37.3" y="156.02" width="4.5" height="27.18" fill="#c00028"/>
<line x1="44.05" y1="155.08" x2="44.05" y2="156.32" stroke="#6fa87a" stroke-width="0.65"/>
<line x1="42.95" y1="155.08" x2="45.15" y2="155.08" stroke="#3f5a48" stroke-width="0.7"/>
<rect x="41.8" y="156.02" width="4.5" height="27.18" fill="#2ca83c"/>
<line x1="53.48" y1="169.93" x2="53.48" y2="171.81" stroke="#c0607a" stroke-width="0.65"/>
<line x1="52.38" y1="169.93" x2="54.58" y2="169.93" stroke="#7a3844" stroke-width="0.7"/>
<rect x="51.23" y="171.51" width="4.5" height="11.69" fill="#c00028"/>
<line x1="57.98" y1="150.34" x2="57.98" y2="155.06" stroke="#6fa87a" stroke-width="0.65"/>
<line x1="56.88" y1="150.34" x2="59.08" y2="150.34" stroke="#3f5a48" stroke-width="0.7"/>
<rect x="55.73" y="154.76" width="4.5" height="28.44" fill="#2ca83c"/>
<text x="57.98" y="151.44" font-size="4.5" text-anchor="middle" fill="#2e1014" stroke="#2e1014" stroke-width="0.12">*</text>
<text x="57.98" y="149.34" font-size="4.5" text-anchor="middle" fill="#2e1014" stroke="#2e1014" stroke-width="0.12">*</text>
<line x1="67.41" y1="157.92" x2="67.41" y2="163.28" stroke="#c0607a" stroke-width="0.65"/>
<line x1="66.31" y1="157.92" x2="68.51" y2="157.92" stroke="#7a3844" stroke-width="0.7"/>
<rect x="65.16" y="162.98" width="4.5" height="20.22" fill="#c00028"/>
<line x1="71.91" y1="154.44" x2="71.91" y2="156.96" stroke="#6fa87a" stroke-width="0.65"/>
<line x1="70.81" y1="154.44" x2="73.01" y2="154.44" stroke="#3f5a48" stroke-width="0.7"/>
<rect x="69.66" y="156.66" width="4.5" height="26.54" fill="#2ca83c"/>
<line x1="81.34" y1="179.09" x2="81.34" y2="180.34" stroke="#c0607a" stroke-width="0.65"/>
<line x1="80.24" y1="179.09" x2="82.44" y2="179.09" stroke="#7a3844" stroke-width="0.7"/>
<rect x="79.09" y="180.04" width="4.5" height="3.16" fill="#c00028"/>
<line x1="85.84" y1="150.97" x2="85.84" y2="156.32" stroke="#6fa87a" stroke-width="0.65"/>
<line x1="84.74" y1="150.97" x2="86.94" y2="150.97" stroke="#3f5a48" stroke-width="0.7"/>
<rect x="83.59" y="156.02" width="4.5" height="27.18" fill="#2ca83c"/>
<text x="85.84" y="152.07" font-size="4.5" text-anchor="middle" fill="#2e1014" stroke="#2e1014" stroke-width="0.12">*</text>
<text x="85.84" y="149.97" font-size="4.5" text-anchor="middle" fill="#2e1014" stroke="#2e1014" stroke-width="0.12">*</text>
<text x="85.84" y="147.87" font-size="4.5" text-anchor="middle" fill="#2e1014" stroke="#2e1014" stroke-width="0.12">*</text>
<line x1="34" y1="145.08" x2="34" y2="183.7" stroke="#02020c" stroke-width="1.5"/>
<line x1="32.4" y1="183.2" x2="90.4" y2="183.2" stroke="#02020c" stroke-width="1.0"/>
<line x1="31.7" y1="183.2" x2="34.2" y2="183.2" stroke="#02020c" stroke-width="0.8"/>
<text x="29" y="185.25" font-size="6.0" text-anchor="end" font-weight="normal" fill="#111" stroke="#111" stroke-width="0.22">0</text>
<line x1="31.7" y1="167.4" x2="34.2" y2="167.4" stroke="#02020c" stroke-width="0.8"/>
<text x="29" y="169.45" font-size="6.0" text-anchor="end" font-weight="normal" fill="#111" stroke="#111" stroke-width="0.22">50</text>
<line x1="31.7" y1="151.6" x2="34.2" y2="151.6" stroke="#02020c" stroke-width="0.8"/>
<text x="29" y="153.65" font-size="6.0" text-anchor="end" font-weight="normal" fill="#111" stroke="#111" stroke-width="0.22">100</text>
<text transform="translate(12.9 164.2) rotate(-90)" font-size="6.5" text-anchor="middle" fill="#111" stroke="#111" stroke-width="0.32" textLength="36.5" lengthAdjust="spacingAndGlyphs">% Proliferation</text>
<line x1="41.6" y1="183.2" x2="41.6" y2="185.7" stroke="#02020c" stroke-width="0.8"/>
<text x="41.6" y="194.3" font-size="5.5" text-anchor="middle" font-weight="normal" fill="#111" stroke="#111" stroke-width="0.22">1</text>
<text transform="translate(42.8 199.2) rotate(-90)" font-size="6.0" text-anchor="end" fill="#111" stroke="#111" stroke-width="0.22">MINO</text>
<line x1="55.53" y1="183.2" x2="55.53" y2="185.7" stroke="#02020c" stroke-width="0.8"/>
<text x="55.53" y="194.3" font-size="5.5" text-anchor="middle" font-weight="normal" fill="#111" stroke="#111" stroke-width="0.22">2</text>
<text transform="translate(56.73 199.2) rotate(-90)" font-size="6.0" text-anchor="end" fill="#111" stroke="#111" stroke-width="0.22">UPF1H</text>
<line x1="69.46" y1="183.2" x2="69.46" y2="185.7" stroke="#02020c" stroke-width="0.8"/>
<text x="69.46" y="194.3" font-size="5.5" text-anchor="middle" font-weight="normal" fill="#111" stroke="#111" stroke-width="0.22">3</text>
<text transform="translate(70.66 199.2) rotate(-90)" font-size="6.0" text-anchor="end" fill="#111" stroke="#111" stroke-width="0.22">MINO</text>
<line x1="83.39" y1="183.2" x2="83.39" y2="185.7" stroke="#02020c" stroke-width="0.8"/>
<text x="83.39" y="194.3" font-size="5.5" text-anchor="middle" font-weight="normal" fill="#111" stroke="#111" stroke-width="0.22">4</text>
<text transform="translate(84.59 199.2) rotate(-90)" font-size="6.0" text-anchor="end" fill="#111" stroke="#111" stroke-width="0.22">UPF1H</text>
<rect x="93.1" y="146.2" width="3.1" height="3" fill="#b4062a"/>
<text x="98.7" y="150" font-size="5.85" fill="#111" stroke="#111" stroke-width="0.14">CTRL</text>
<rect x="93.1" y="153.2" width="3.1" height="3" fill="#2a9a3c"/>
<text x="98.7" y="157" font-size="5.85" fill="#111" stroke="#111" stroke-width="0.14">PTEN KO</text>
</g>
<g>
<text transform="translate(135.5 128.5) scale(1 1)" font-size="10.6" font-weight="bold" fill="#000" stroke="#000" stroke-width="0.32">F</text>
<text x="190" y="130.2" font-size="7.8" text-anchor="middle" font-weight="normal" fill="#111" stroke="#111" stroke-width="0.22" textLength="37.4" lengthAdjust="spacingAndGlyphs">ALPELISIB</text>
<text x="176" y="140.9" font-size="6" text-anchor="middle" fill="#1a1a1a" stroke="#1a1a1a" stroke-width="0.1">1 μM</text>
<text x="202.9" y="140.9" font-size="6" text-anchor="middle" fill="#1a1a1a" stroke="#1a1a1a" stroke-width="0.1">10 μM</text>
<line x1="164.3" y1="143.3" x2="188.1" y2="143.3" stroke="#858585" stroke-width="0.8"/>
<line x1="164.3" y1="143.3" x2="188.1" y2="143.3" stroke="#505050" stroke-width="1.3" stroke-dasharray="0.55 0.75"/>
<line x1="164.3" y1="141.9" x2="164.3" y2="144.7" stroke="#333" stroke-width="0.8"/>
<line x1="188.1" y1="141.9" x2="188.1" y2="144.7" stroke="#333" stroke-width="0.8"/>
<line x1="190.2" y1="143.3" x2="214.8" y2="143.3" stroke="#858585" stroke-width="0.8"/>
<line x1="190.2" y1="143.3" x2="214.8" y2="143.3" stroke="#505050" stroke-width="1.3" stroke-dasharray="0.55 0.75"/>
<line x1="190.2" y1="141.9" x2="190.2" y2="144.7" stroke="#333" stroke-width="0.8"/>
<line x1="214.8" y1="141.9" x2="214.8" y2="144.7" stroke="#333" stroke-width="0.8"/>
<line x1="167.35" y1="152.55" x2="167.35" y2="153.48" stroke="#c0607a" stroke-width="0.65"/>
<line x1="166.25" y1="152.55" x2="168.45" y2="152.55" stroke="#7a3844" stroke-width="0.7"/>
<rect x="165.1" y="153.18" width="4.5" height="30.02" fill="#c00028"/>
<line x1="171.85" y1="154.13" x2="171.85" y2="156.01" stroke="#6fa87a" stroke-width="0.65"/>
<line x1="170.75" y1="154.13" x2="172.95" y2="154.13" stroke="#3f5a48" stroke-width="0.7"/>
<rect x="169.6" y="155.71" width="4.5" height="27.49" fill="#2ca83c"/>
<text x="171.85" y="155.23" font-size="4.5" text-anchor="middle" fill="#2e1014" stroke="#2e1014" stroke-width="0.12">*</text>
<text x="171.85" y="153.13" font-size="4.5" text-anchor="middle" fill="#2e1014" stroke="#2e1014" stroke-width="0.12">*</text>
<line x1="181.28" y1="158.55" x2="181.28" y2="163.28" stroke="#c0607a" stroke-width="0.65"/>
<line x1="180.18" y1="158.55" x2="182.38" y2="158.55" stroke="#7a3844" stroke-width="0.7"/>
<rect x="179.03" y="162.98" width="4.5" height="20.22" fill="#c00028"/>
<line x1="185.78" y1="150.34" x2="185.78" y2="152.22" stroke="#6fa87a" stroke-width="0.65"/>
<line x1="184.68" y1="150.34" x2="186.88" y2="150.34" stroke="#3f5a48" stroke-width="0.7"/>
<rect x="183.53" y="151.92" width="4.5" height="31.28" fill="#2ca83c"/>
<text x="185.78" y="151.44" font-size="4.5" text-anchor="middle" fill="#2e1014" stroke="#2e1014" stroke-width="0.12">*</text>
<line x1="195.21" y1="162.98" x2="195.21" y2="168.65" stroke="#c0607a" stroke-width="0.65"/>
<line x1="194.11" y1="162.98" x2="196.31" y2="162.98" stroke="#7a3844" stroke-width="0.7"/>
<rect x="192.96" y="168.35" width="4.5" height="14.85" fill="#c00028"/>
<line x1="199.71" y1="164.56" x2="199.71" y2="166.44" stroke="#6fa87a" stroke-width="0.65"/>
<line x1="198.61" y1="164.56" x2="200.81" y2="164.56" stroke="#3f5a48" stroke-width="0.7"/>
<rect x="197.46" y="166.14" width="4.5" height="17.06" fill="#2ca83c"/>
<line x1="209.14" y1="172.77" x2="209.14" y2="176.55" stroke="#c0607a" stroke-width="0.65"/>
<line x1="208.04" y1="172.77" x2="210.24" y2="172.77" stroke="#7a3844" stroke-width="0.7"/>
<rect x="206.89" y="176.25" width="4.5" height="6.95" fill="#c00028"/>
<line x1="213.64" y1="152.23" x2="213.64" y2="154.11" stroke="#6fa87a" stroke-width="0.65"/>
<line x1="212.54" y1="152.23" x2="214.74" y2="152.23" stroke="#3f5a48" stroke-width="0.7"/>
<rect x="211.39" y="153.81" width="4.5" height="29.39" fill="#2ca83c"/>
<text x="213.64" y="153.33" font-size="4.5" text-anchor="middle" fill="#2e1014" stroke="#2e1014" stroke-width="0.12">*</text>
<text x="213.64" y="151.23" font-size="4.5" text-anchor="middle" fill="#2e1014" stroke="#2e1014" stroke-width="0.12">*</text>
<text x="213.64" y="149.13" font-size="4.5" text-anchor="middle" fill="#2e1014" stroke="#2e1014" stroke-width="0.12">*</text>
<line x1="161.8" y1="145.08" x2="161.8" y2="183.7" stroke="#02020c" stroke-width="1.5"/>
<line x1="160.2" y1="183.2" x2="218.2" y2="183.2" stroke="#02020c" stroke-width="1.0"/>
<line x1="159.5" y1="183.2" x2="162" y2="183.2" stroke="#02020c" stroke-width="0.8"/>
<text x="156.8" y="185.25" font-size="6.0" text-anchor="end" font-weight="normal" fill="#111" stroke="#111" stroke-width="0.22">0</text>
<line x1="159.5" y1="167.4" x2="162" y2="167.4" stroke="#02020c" stroke-width="0.8"/>
<text x="156.8" y="169.45" font-size="6.0" text-anchor="end" font-weight="normal" fill="#111" stroke="#111" stroke-width="0.22">50</text>
<line x1="159.5" y1="151.6" x2="162" y2="151.6" stroke="#02020c" stroke-width="0.8"/>
<text x="156.8" y="153.65" font-size="6.0" text-anchor="end" font-weight="normal" fill="#111" stroke="#111" stroke-width="0.22">100</text>
<text transform="translate(140.7 164.2) rotate(-90)" font-size="6.5" text-anchor="middle" fill="#111" stroke="#111" stroke-width="0.32" textLength="36.5" lengthAdjust="spacingAndGlyphs">% Proliferation</text>
<line x1="169.4" y1="183.2" x2="169.4" y2="185.7" stroke="#02020c" stroke-width="0.8"/>
<text x="169.4" y="194.3" font-size="5.5" text-anchor="middle" font-weight="normal" fill="#111" stroke="#111" stroke-width="0.22">1</text>
<text transform="translate(170.6 199.2) rotate(-90)" font-size="6.0" text-anchor="end" fill="#111" stroke="#111" stroke-width="0.22">MINO</text>
<line x1="183.33" y1="183.2" x2="183.33" y2="185.7" stroke="#02020c" stroke-width="0.8"/>
<text x="183.33" y="194.3" font-size="5.5" text-anchor="middle" font-weight="normal" fill="#111" stroke="#111" stroke-width="0.22">2</text>
<text transform="translate(184.53 199.2) rotate(-90)" font-size="6.0" text-anchor="end" fill="#111" stroke="#111" stroke-width="0.22">UPF1H</text>
<line x1="197.26" y1="183.2" x2="197.26" y2="185.7" stroke="#02020c" stroke-width="0.8"/>
<text x="197.26" y="194.3" font-size="5.5" text-anchor="middle" font-weight="normal" fill="#111" stroke="#111" stroke-width="0.22">3</text>
<text transform="translate(198.46 199.2) rotate(-90)" font-size="6.0" text-anchor="end" fill="#111" stroke="#111" stroke-width="0.22">MINO</text>
<line x1="211.19" y1="183.2" x2="211.19" y2="185.7" stroke="#02020c" stroke-width="0.8"/>
<text x="211.19" y="194.3" font-size="5.5" text-anchor="middle" font-weight="normal" fill="#111" stroke="#111" stroke-width="0.22">4</text>
<text transform="translate(212.39 199.2) rotate(-90)" font-size="6.0" text-anchor="end" fill="#111" stroke="#111" stroke-width="0.22">UPF1H</text>
<rect x="220.9" y="146.2" width="3.1" height="3" fill="#b4062a"/>
<text x="226.5" y="150" font-size="5.85" fill="#111" stroke="#111" stroke-width="0.14">CTRL</text>
<rect x="220.9" y="153.2" width="3.1" height="3" fill="#2a9a3c"/>
<text x="226.5" y="157" font-size="5.85" fill="#111" stroke="#111" stroke-width="0.14">PTEN KO</text>
</g>
<g>
<text transform="translate(262.7 128.5) scale(1 1)" font-size="10.6" font-weight="bold" fill="#000" stroke="#000" stroke-width="0.32">G</text>
<text x="317.9" y="130.2" font-size="7.8" text-anchor="middle" font-weight="normal" fill="#111" stroke="#111" stroke-width="0.22" textLength="56.5" lengthAdjust="spacingAndGlyphs">CAPIVASERTIB</text>
<text x="303.9" y="140.9" font-size="6" text-anchor="middle" fill="#1a1a1a" stroke="#1a1a1a" stroke-width="0.1">1 μM</text>
<text x="330.8" y="140.9" font-size="6" text-anchor="middle" fill="#1a1a1a" stroke="#1a1a1a" stroke-width="0.1">10 μM</text>
<line x1="292.2" y1="143.3" x2="316" y2="143.3" stroke="#858585" stroke-width="0.8"/>
<line x1="292.2" y1="143.3" x2="316" y2="143.3" stroke="#505050" stroke-width="1.3" stroke-dasharray="0.55 0.75"/>
<line x1="292.2" y1="141.9" x2="292.2" y2="144.7" stroke="#333" stroke-width="0.8"/>
<line x1="316" y1="141.9" x2="316" y2="144.7" stroke="#333" stroke-width="0.8"/>
<line x1="318.1" y1="143.3" x2="342.7" y2="143.3" stroke="#858585" stroke-width="0.8"/>
<line x1="318.1" y1="143.3" x2="342.7" y2="143.3" stroke="#505050" stroke-width="1.3" stroke-dasharray="0.55 0.75"/>
<line x1="318.1" y1="141.9" x2="318.1" y2="144.7" stroke="#333" stroke-width="0.8"/>
<line x1="342.7" y1="141.9" x2="342.7" y2="144.7" stroke="#333" stroke-width="0.8"/>
<line x1="295.25" y1="149.7" x2="295.25" y2="153.8" stroke="#c0607a" stroke-width="0.65"/>
<line x1="294.15" y1="149.7" x2="296.35" y2="149.7" stroke="#7a3844" stroke-width="0.7"/>
<rect x="293" y="153.5" width="4.5" height="29.7" fill="#c00028"/>
<line x1="299.75" y1="151.92" x2="299.75" y2="152.85" stroke="#6fa87a" stroke-width="0.65"/>
<line x1="298.65" y1="151.92" x2="300.85" y2="151.92" stroke="#3f5a48" stroke-width="0.7"/>
<rect x="297.5" y="152.55" width="4.5" height="30.65" fill="#2ca83c"/>
<line x1="309.18" y1="159.18" x2="309.18" y2="164.86" stroke="#c0607a" stroke-width="0.65"/>
<line x1="308.08" y1="159.18" x2="310.28" y2="159.18" stroke="#7a3844" stroke-width="0.7"/>
<rect x="306.93" y="164.56" width="4.5" height="18.64" fill="#c00028"/>
<line x1="313.68" y1="156.66" x2="313.68" y2="159.17" stroke="#6fa87a" stroke-width="0.65"/>
<line x1="312.58" y1="156.66" x2="314.78" y2="156.66" stroke="#3f5a48" stroke-width="0.7"/>
<rect x="311.43" y="158.87" width="4.5" height="24.33" fill="#2ca83c"/>
<line x1="323.11" y1="150.34" x2="323.11" y2="158.54" stroke="#c0607a" stroke-width="0.65"/>
<line x1="322.01" y1="150.34" x2="324.21" y2="150.34" stroke="#7a3844" stroke-width="0.7"/>
<rect x="320.86" y="158.24" width="4.5" height="24.96" fill="#c00028"/>
<line x1="327.61" y1="154.44" x2="327.61" y2="156.96" stroke="#6fa87a" stroke-width="0.65"/>
<line x1="326.51" y1="154.44" x2="328.71" y2="154.44" stroke="#3f5a48" stroke-width="0.7"/>
<rect x="325.36" y="156.66" width="4.5" height="26.54" fill="#2ca83c"/>
<line x1="337.04" y1="173.4" x2="337.04" y2="177.18" stroke="#c0607a" stroke-width="0.65"/>
<line x1="335.94" y1="173.4" x2="338.14" y2="173.4" stroke="#7a3844" stroke-width="0.7"/>
<rect x="334.79" y="176.88" width="4.5" height="6.32" fill="#c00028"/>
<line x1="341.54" y1="173.4" x2="341.54" y2="175.28" stroke="#6fa87a" stroke-width="0.65"/>
<line x1="340.44" y1="173.4" x2="342.64" y2="173.4" stroke="#3f5a48" stroke-width="0.7"/>
<rect x="339.29" y="174.98" width="4.5" height="8.22" fill="#2ca83c"/>
<line x1="289.7" y1="145.08" x2="289.7" y2="183.7" stroke="#02020c" stroke-width="1.5"/>
<line x1="288.1" y1="183.2" x2="346.1" y2="183.2" stroke="#02020c" stroke-width="1.0"/>
<line x1="287.4" y1="183.2" x2="289.9" y2="183.2" stroke="#02020c" stroke-width="0.8"/>
<text x="284.7" y="185.25" font-size="6.0" text-anchor="end" font-weight="normal" fill="#111" stroke="#111" stroke-width="0.22">0</text>
<line x1="287.4" y1="167.4" x2="289.9" y2="167.4" stroke="#02020c" stroke-width="0.8"/>
<text x="284.7" y="169.45" font-size="6.0" text-anchor="end" font-weight="normal" fill="#111" stroke="#111" stroke-width="0.22">50</text>
<line x1="287.4" y1="151.6" x2="289.9" y2="151.6" stroke="#02020c" stroke-width="0.8"/>
<text x="284.7" y="153.65" font-size="6.0" text-anchor="end" font-weight="normal" fill="#111" stroke="#111" stroke-width="0.22">100</text>
<text transform="translate(268.6 164.2) rotate(-90)" font-size="6.5" text-anchor="middle" fill="#111" stroke="#111" stroke-width="0.32" textLength="36.5" lengthAdjust="spacingAndGlyphs">% Proliferation</text>
<line x1="297.3" y1="183.2" x2="297.3" y2="185.7" stroke="#02020c" stroke-width="0.8"/>
<text x="297.3" y="194.3" font-size="5.5" text-anchor="middle" font-weight="normal" fill="#111" stroke="#111" stroke-width="0.22">1</text>
<text transform="translate(298.5 199.2) rotate(-90)" font-size="6.0" text-anchor="end" fill="#111" stroke="#111" stroke-width="0.22">MINO</text>
<line x1="311.23" y1="183.2" x2="311.23" y2="185.7" stroke="#02020c" stroke-width="0.8"/>
<text x="311.23" y="194.3" font-size="5.5" text-anchor="middle" font-weight="normal" fill="#111" stroke="#111" stroke-width="0.22">2</text>
<text transform="translate(312.43 199.2) rotate(-90)" font-size="6.0" text-anchor="end" fill="#111" stroke="#111" stroke-width="0.22">UPF1H</text>
<line x1="325.16" y1="183.2" x2="325.16" y2="185.7" stroke="#02020c" stroke-width="0.8"/>
<text x="325.16" y="194.3" font-size="5.5" text-anchor="middle" font-weight="normal" fill="#111" stroke="#111" stroke-width="0.22">3</text>
<text transform="translate(326.36 199.2) rotate(-90)" font-size="6.0" text-anchor="end" fill="#111" stroke="#111" stroke-width="0.22">MINO</text>
<line x1="339.09" y1="183.2" x2="339.09" y2="185.7" stroke="#02020c" stroke-width="0.8"/>
<text x="339.09" y="194.3" font-size="5.5" text-anchor="middle" font-weight="normal" fill="#111" stroke="#111" stroke-width="0.22">4</text>
<text transform="translate(340.29 199.2) rotate(-90)" font-size="6.0" text-anchor="end" fill="#111" stroke="#111" stroke-width="0.22">UPF1H</text>
<rect x="348.8" y="146.2" width="3.1" height="3" fill="#b4062a"/>
<text x="354.4" y="150" font-size="5.85" fill="#111" stroke="#111" stroke-width="0.14">CTRL</text>
<rect x="348.8" y="153.2" width="3.1" height="3" fill="#2a9a3c"/>
<text x="354.4" y="157" font-size="5.85" fill="#111" stroke="#111" stroke-width="0.14">PTEN KO</text>
</g>
<g>
<text transform="translate(6.6 242.2) scale(1 1)" font-size="10.6" font-weight="bold" fill="#000" stroke="#000" stroke-width="0.32">H</text>
<text x="80" y="244.4" font-size="7.8" text-anchor="middle" font-weight="normal" fill="#111" stroke="#111" stroke-width="0.22" textLength="41" lengthAdjust="spacingAndGlyphs">IDELALISIB</text>
<text x="57" y="255.3" font-size="6" text-anchor="middle" fill="#1a1a1a" stroke="#1a1a1a" stroke-width="0.1">1 μM</text>
<text x="103.7" y="255.3" font-size="6" text-anchor="middle" fill="#1a1a1a" stroke="#1a1a1a" stroke-width="0.1">10 μM</text>
<line x1="36.5" y1="257.6" x2="76.6" y2="257.6" stroke="#6e5558" stroke-width="0.8"/>
<line x1="36.5" y1="256.4" x2="36.5" y2="258.8" stroke="#9a3040" stroke-width="0.7"/>
<line x1="76.6" y1="256.4" x2="76.6" y2="258.8" stroke="#9a3040" stroke-width="0.7"/>
<line x1="83" y1="257.6" x2="122.8" y2="257.6" stroke="#6e5558" stroke-width="0.8"/>
<line x1="83" y1="256.4" x2="83" y2="258.8" stroke="#9a3040" stroke-width="0.7"/>
<line x1="122.8" y1="256.4" x2="122.8" y2="258.8" stroke="#9a3040" stroke-width="0.7"/>
<line x1="38.35" y1="264.02" x2="38.35" y2="268.11" stroke="#b8485e" stroke-width="0.65"/>
<line x1="37.25" y1="264.02" x2="39.45" y2="264.02" stroke="#7a3844" stroke-width="0.7"/>
<rect x="36.4" y="267.81" width="3.9" height="29.39" fill="#c8002e"/>
<line x1="42.25" y1="265.6" x2="42.25" y2="269.38" stroke="#3d5f86" stroke-width="0.65"/>
<line x1="41.15" y1="265.6" x2="43.35" y2="265.6" stroke="#2c3f58" stroke-width="0.7"/>
<rect x="40.3" y="269.08" width="3.9" height="28.12" fill="#0e4a80"/>
<line x1="49.59" y1="273.5" x2="49.59" y2="278.54" stroke="#b8485e" stroke-width="0.65"/>
<line x1="48.49" y1="273.5" x2="50.69" y2="273.5" stroke="#7a3844" stroke-width="0.7"/>
<rect x="47.64" y="278.24" width="3.9" height="18.96" fill="#c8002e"/>
<line x1="53.49" y1="274.45" x2="53.49" y2="279.49" stroke="#3d5f86" stroke-width="0.65"/>
<line x1="52.39" y1="274.45" x2="54.59" y2="274.45" stroke="#2c3f58" stroke-width="0.7"/>
<rect x="51.54" y="279.19" width="3.9" height="18.01" fill="#0e4a80"/>
<line x1="60.83" y1="268.44" x2="60.83" y2="271.59" stroke="#b8485e" stroke-width="0.65"/>
<line x1="59.73" y1="268.44" x2="61.93" y2="268.44" stroke="#7a3844" stroke-width="0.7"/>
<rect x="58.88" y="271.29" width="3.9" height="25.91" fill="#c8002e"/>
<line x1="64.73" y1="266.55" x2="64.73" y2="272.54" stroke="#3d5f86" stroke-width="0.65"/>
<line x1="63.63" y1="266.55" x2="65.83" y2="266.55" stroke="#2c3f58" stroke-width="0.7"/>
<rect x="62.78" y="272.24" width="3.9" height="24.96" fill="#0e4a80"/>
<line x1="72.07" y1="270.34" x2="72.07" y2="272.22" stroke="#b8485e" stroke-width="0.65"/>
<line x1="70.97" y1="270.34" x2="73.17" y2="270.34" stroke="#7a3844" stroke-width="0.7"/>
<rect x="70.12" y="271.92" width="3.9" height="25.28" fill="#c8002e"/>
<line x1="75.97" y1="264.65" x2="75.97" y2="268.43" stroke="#3d5f86" stroke-width="0.65"/>
<line x1="74.87" y1="264.65" x2="77.07" y2="264.65" stroke="#2c3f58" stroke-width="0.7"/>
<rect x="74.02" y="268.13" width="3.9" height="29.07" fill="#0e4a80"/>
<line x1="83.31" y1="265.28" x2="83.31" y2="271.59" stroke="#b8485e" stroke-width="0.65"/>
<line x1="82.21" y1="265.28" x2="84.41" y2="265.28" stroke="#7a3844" stroke-width="0.7"/>
<rect x="81.36" y="271.29" width="3.9" height="25.91" fill="#c8002e"/>
<line x1="87.21" y1="271.6" x2="87.21" y2="276.01" stroke="#3d5f86" stroke-width="0.65"/>
<line x1="86.11" y1="271.6" x2="88.31" y2="271.6" stroke="#2c3f58" stroke-width="0.7"/>
<rect x="85.26" y="275.71" width="3.9" height="21.49" fill="#0e4a80"/>
<line x1="94.55" y1="283.61" x2="94.55" y2="287.07" stroke="#b8485e" stroke-width="0.65"/>
<line x1="93.45" y1="283.61" x2="95.65" y2="283.61" stroke="#7a3844" stroke-width="0.7"/>
<rect x="92.6" y="286.77" width="3.9" height="10.43" fill="#c8002e"/>
<line x1="98.45" y1="284.56" x2="98.45" y2="287.07" stroke="#3d5f86" stroke-width="0.65"/>
<line x1="97.35" y1="284.56" x2="99.55" y2="284.56" stroke="#2c3f58" stroke-width="0.7"/>
<rect x="96.5" y="286.77" width="3.9" height="10.43" fill="#0e4a80"/>
<line x1="105.79" y1="272.24" x2="105.79" y2="274.43" stroke="#b8485e" stroke-width="0.65"/>
<line x1="104.69" y1="272.24" x2="106.89" y2="272.24" stroke="#7a3844" stroke-width="0.7"/>
<rect x="103.84" y="274.13" width="3.9" height="23.07" fill="#c8002e"/>
<line x1="109.69" y1="266.55" x2="109.69" y2="276.64" stroke="#3d5f86" stroke-width="0.65"/>
<line x1="108.59" y1="266.55" x2="110.79" y2="266.55" stroke="#2c3f58" stroke-width="0.7"/>
<rect x="107.74" y="276.34" width="3.9" height="20.86" fill="#0e4a80"/>
<line x1="117.03" y1="271.29" x2="117.03" y2="275.06" stroke="#b8485e" stroke-width="0.65"/>
<line x1="115.93" y1="271.29" x2="118.13" y2="271.29" stroke="#7a3844" stroke-width="0.7"/>
<rect x="115.08" y="274.76" width="3.9" height="22.44" fill="#c8002e"/>
<line x1="120.93" y1="268.44" x2="120.93" y2="271.59" stroke="#3d5f86" stroke-width="0.65"/>
<line x1="119.83" y1="268.44" x2="122.03" y2="268.44" stroke="#2c3f58" stroke-width="0.7"/>
<rect x="118.98" y="271.29" width="3.9" height="25.91" fill="#0e4a80"/>
<line x1="34" y1="259.08" x2="34" y2="297.7" stroke="#02020c" stroke-width="1.5"/>
<line x1="31.9" y1="297.2" x2="125.4" y2="297.2" stroke="#02020c" stroke-width="1.0"/>
<line x1="31.2" y1="297.2" x2="33.7" y2="297.2" stroke="#02020c" stroke-width="0.8"/>
<text x="29" y="299.25" font-size="6.0" text-anchor="end" font-weight="normal" fill="#111" stroke="#111" stroke-width="0.22">0</text>
<line x1="31.2" y1="281.4" x2="33.7" y2="281.4" stroke="#02020c" stroke-width="0.8"/>
<text x="29" y="283.45" font-size="6.0" text-anchor="end" font-weight="normal" fill="#111" stroke="#111" stroke-width="0.22">50</text>
<line x1="31.2" y1="265.6" x2="33.7" y2="265.6" stroke="#02020c" stroke-width="0.8"/>
<text x="29" y="267.65" font-size="6.0" text-anchor="end" font-weight="normal" fill="#111" stroke="#111" stroke-width="0.22">100</text>
<text transform="translate(12.3 278.2) rotate(-90)" font-size="6.5" text-anchor="middle" fill="#111" stroke="#111" stroke-width="0.32" textLength="36.5" lengthAdjust="spacingAndGlyphs">% Proliferation</text>
<line x1="40.1" y1="297.2" x2="40.1" y2="299.7" stroke="#02020c" stroke-width="0.8"/>
<text x="40.5" y="308.2" font-size="5.5" text-anchor="middle" font-weight="normal" fill="#111" stroke="#111" stroke-width="0.22">1</text>
<text transform="translate(41.7 313.3) rotate(-90)" font-size="5.85" text-anchor="end" fill="#111" stroke="#111" stroke-width="0.22">MINO</text>
<line x1="51.34" y1="297.2" x2="51.34" y2="299.7" stroke="#02020c" stroke-width="0.8"/>
<text x="51.74" y="308.2" font-size="5.5" text-anchor="middle" font-weight="normal" fill="#111" stroke="#111" stroke-width="0.22">2</text>
<text transform="translate(52.94 313.3) rotate(-90)" font-size="5.85" text-anchor="end" fill="#111" stroke="#111" stroke-width="0.22">UPF1H</text>
<line x1="62.58" y1="297.2" x2="62.58" y2="299.7" stroke="#02020c" stroke-width="0.8"/>
<text x="62.98" y="308.2" font-size="5.5" text-anchor="middle" font-weight="normal" fill="#111" stroke="#111" stroke-width="0.22">3</text>
<text transform="translate(64.18 313.3) rotate(-90)" font-size="5.85" text-anchor="end" fill="#111" stroke="#111" stroke-width="0.22">UPF19U</text>
<line x1="73.82" y1="297.2" x2="73.82" y2="299.7" stroke="#02020c" stroke-width="0.8"/>
<text x="74.22" y="308.2" font-size="5.5" text-anchor="middle" font-weight="normal" fill="#111" stroke="#111" stroke-width="0.22">4</text>
<text transform="translate(75.42 313.3) rotate(-90)" font-size="5.85" text-anchor="end" fill="#111" stroke="#111" stroke-width="0.22">Z138</text>
<line x1="85.06" y1="297.2" x2="85.06" y2="299.7" stroke="#02020c" stroke-width="0.8"/>
<text x="85.46" y="308.2" font-size="5.5" text-anchor="middle" font-weight="normal" fill="#111" stroke="#111" stroke-width="0.22">5</text>
<text transform="translate(86.66 313.3) rotate(-90)" font-size="5.85" text-anchor="end" fill="#111" stroke="#111" stroke-width="0.22">MINO</text>
<line x1="96.3" y1="297.2" x2="96.3" y2="299.7" stroke="#02020c" stroke-width="0.8"/>
<text x="96.7" y="308.2" font-size="5.5" text-anchor="middle" font-weight="normal" fill="#111" stroke="#111" stroke-width="0.22">6</text>
<text transform="translate(97.9 313.3) rotate(-90)" font-size="5.85" text-anchor="end" fill="#111" stroke="#111" stroke-width="0.22">UPF1H</text>
<line x1="107.54" y1="297.2" x2="107.54" y2="299.7" stroke="#02020c" stroke-width="0.8"/>
<text x="107.94" y="308.2" font-size="5.5" text-anchor="middle" font-weight="normal" fill="#111" stroke="#111" stroke-width="0.22">7</text>
<text transform="translate(109.14 313.3) rotate(-90)" font-size="5.85" text-anchor="end" fill="#111" stroke="#111" stroke-width="0.22">UPF19U</text>
<line x1="118.78" y1="297.2" x2="118.78" y2="299.7" stroke="#02020c" stroke-width="0.8"/>
<text x="119.18" y="308.2" font-size="5.5" text-anchor="middle" font-weight="normal" fill="#111" stroke="#111" stroke-width="0.22">8</text>
<text transform="translate(120.38 313.3) rotate(-90)" font-size="5.85" text-anchor="end" fill="#111" stroke="#111" stroke-width="0.22">Z138</text>
<rect x="128.5" y="260.4" width="2.9" height="2.9" fill="#b8062c"/>
<text x="133.9" y="264.2" font-size="5.85" fill="#111" stroke="#111" stroke-width="0.14">CTRL</text>
<rect x="128.5" y="267.3" width="2.9" height="2.9" fill="#0c3f70"/>
<text x="133.9" y="271.1" font-size="5.85" fill="#111" stroke="#111" stroke-width="0.14" textLength="31.2" lengthAdjust="spacingAndGlyphs">PIK3CA UP</text>
</g>
<g>
<text transform="translate(180.8 242.2) scale(1 1)" font-size="10.6" font-weight="bold" fill="#000" stroke="#000" stroke-width="0.32">I</text>
<text x="254.2" y="244.4" font-size="7.8" text-anchor="middle" font-weight="normal" fill="#111" stroke="#111" stroke-width="0.22" textLength="34.5" lengthAdjust="spacingAndGlyphs">AZD8835</text>
<text x="231.2" y="255.3" font-size="6" text-anchor="middle" fill="#1a1a1a" stroke="#1a1a1a" stroke-width="0.1">1 μM</text>
<text x="277.9" y="255.3" font-size="6" text-anchor="middle" fill="#1a1a1a" stroke="#1a1a1a" stroke-width="0.1">10 μM</text>
<line x1="210.7" y1="257.6" x2="250.8" y2="257.6" stroke="#6e5558" stroke-width="0.8"/>
<line x1="210.7" y1="256.4" x2="210.7" y2="258.8" stroke="#9a3040" stroke-width="0.7"/>
<line x1="250.8" y1="256.4" x2="250.8" y2="258.8" stroke="#9a3040" stroke-width="0.7"/>
<line x1="257.2" y1="257.6" x2="297" y2="257.6" stroke="#6e5558" stroke-width="0.8"/>
<line x1="257.2" y1="256.4" x2="257.2" y2="258.8" stroke="#9a3040" stroke-width="0.7"/>
<line x1="297" y1="256.4" x2="297" y2="258.8" stroke="#9a3040" stroke-width="0.7"/>
<line x1="212.55" y1="269.71" x2="212.55" y2="274.12" stroke="#b8485e" stroke-width="0.65"/>
<line x1="211.45" y1="269.71" x2="213.65" y2="269.71" stroke="#7a3844" stroke-width="0.7"/>
<rect x="210.6" y="273.82" width="3.9" height="23.38" fill="#c8002e"/>
<line x1="216.45" y1="273.5" x2="216.45" y2="276.64" stroke="#3d5f86" stroke-width="0.65"/>
<line x1="215.35" y1="273.5" x2="217.55" y2="273.5" stroke="#2c3f58" stroke-width="0.7"/>
<rect x="214.5" y="276.34" width="3.9" height="20.86" fill="#0e4a80"/>
<line x1="223.79" y1="280.14" x2="223.79" y2="286.76" stroke="#b8485e" stroke-width="0.65"/>
<line x1="222.69" y1="280.14" x2="224.89" y2="280.14" stroke="#7a3844" stroke-width="0.7"/>
<rect x="221.84" y="286.46" width="3.9" height="10.74" fill="#c8002e"/>
<line x1="227.69" y1="282.66" x2="227.69" y2="285.49" stroke="#3d5f86" stroke-width="0.65"/>
<line x1="226.59" y1="282.66" x2="228.79" y2="282.66" stroke="#2c3f58" stroke-width="0.7"/>
<rect x="225.74" y="285.19" width="3.9" height="12.01" fill="#0e4a80"/>
<line x1="235.03" y1="267.81" x2="235.03" y2="271.59" stroke="#b8485e" stroke-width="0.65"/>
<line x1="233.93" y1="267.81" x2="236.13" y2="267.81" stroke="#7a3844" stroke-width="0.7"/>
<rect x="233.08" y="271.29" width="3.9" height="25.91" fill="#c8002e"/>
<line x1="238.93" y1="266.86" x2="238.93" y2="272.54" stroke="#3d5f86" stroke-width="0.65"/>
<line x1="237.83" y1="266.86" x2="240.03" y2="266.86" stroke="#2c3f58" stroke-width="0.7"/>
<rect x="236.98" y="272.24" width="3.9" height="24.96" fill="#0e4a80"/>
<line x1="246.27" y1="272.55" x2="246.27" y2="275.06" stroke="#b8485e" stroke-width="0.65"/>
<line x1="245.17" y1="272.55" x2="247.37" y2="272.55" stroke="#7a3844" stroke-width="0.7"/>
<rect x="244.32" y="274.76" width="3.9" height="22.44" fill="#c8002e"/>
<line x1="250.17" y1="270.34" x2="250.17" y2="274.43" stroke="#3d5f86" stroke-width="0.65"/>
<line x1="249.07" y1="270.34" x2="251.27" y2="270.34" stroke="#2c3f58" stroke-width="0.7"/>
<rect x="248.22" y="274.13" width="3.9" height="23.07" fill="#0e4a80"/>
<line x1="257.51" y1="270.34" x2="257.51" y2="276.33" stroke="#b8485e" stroke-width="0.65"/>
<line x1="256.41" y1="270.34" x2="258.61" y2="270.34" stroke="#7a3844" stroke-width="0.7"/>
<rect x="255.56" y="276.03" width="3.9" height="21.17" fill="#c8002e"/>
<line x1="261.41" y1="271.6" x2="261.41" y2="276.64" stroke="#3d5f86" stroke-width="0.65"/>
<line x1="260.31" y1="271.6" x2="262.51" y2="271.6" stroke="#2c3f58" stroke-width="0.7"/>
<rect x="259.46" y="276.34" width="3.9" height="20.86" fill="#0e4a80"/>
<line x1="268.75" y1="286.46" x2="268.75" y2="290.86" stroke="#b8485e" stroke-width="0.65"/>
<line x1="267.65" y1="286.46" x2="269.85" y2="286.46" stroke="#7a3844" stroke-width="0.7"/>
<rect x="266.8" y="290.56" width="3.9" height="6.64" fill="#c8002e"/>
<line x1="272.65" y1="288.04" x2="272.65" y2="290.86" stroke="#3d5f86" stroke-width="0.65"/>
<line x1="271.55" y1="288.04" x2="273.75" y2="288.04" stroke="#2c3f58" stroke-width="0.7"/>
<rect x="270.7" y="290.56" width="3.9" height="6.64" fill="#0e4a80"/>
<line x1="279.99" y1="276.98" x2="279.99" y2="278.54" stroke="#b8485e" stroke-width="0.65"/>
<line x1="278.89" y1="276.98" x2="281.09" y2="276.98" stroke="#7a3844" stroke-width="0.7"/>
<rect x="278.04" y="278.24" width="3.9" height="18.96" fill="#c8002e"/>
<line x1="283.89" y1="266.55" x2="283.89" y2="275.38" stroke="#3d5f86" stroke-width="0.65"/>
<line x1="282.79" y1="266.55" x2="284.99" y2="266.55" stroke="#2c3f58" stroke-width="0.7"/>
<rect x="281.94" y="275.08" width="3.9" height="22.12" fill="#0e4a80"/>
<line x1="291.23" y1="275.4" x2="291.23" y2="280.44" stroke="#b8485e" stroke-width="0.65"/>
<line x1="290.13" y1="275.4" x2="292.33" y2="275.4" stroke="#7a3844" stroke-width="0.7"/>
<rect x="289.28" y="280.14" width="3.9" height="17.06" fill="#c8002e"/>
<line x1="295.13" y1="276.34" x2="295.13" y2="279.17" stroke="#3d5f86" stroke-width="0.65"/>
<line x1="294.03" y1="276.34" x2="296.23" y2="276.34" stroke="#2c3f58" stroke-width="0.7"/>
<rect x="293.18" y="278.87" width="3.9" height="18.33" fill="#0e4a80"/>
<line x1="208.2" y1="259.08" x2="208.2" y2="297.7" stroke="#02020c" stroke-width="1.5"/>
<line x1="206.1" y1="297.2" x2="299.6" y2="297.2" stroke="#02020c" stroke-width="1.0"/>
<line x1="205.4" y1="297.2" x2="207.9" y2="297.2" stroke="#02020c" stroke-width="0.8"/>
<text x="203.2" y="299.25" font-size="6.0" text-anchor="end" font-weight="normal" fill="#111" stroke="#111" stroke-width="0.22">0</text>
<line x1="205.4" y1="281.4" x2="207.9" y2="281.4" stroke="#02020c" stroke-width="0.8"/>
<text x="203.2" y="283.45" font-size="6.0" text-anchor="end" font-weight="normal" fill="#111" stroke="#111" stroke-width="0.22">50</text>
<line x1="205.4" y1="265.6" x2="207.9" y2="265.6" stroke="#02020c" stroke-width="0.8"/>
<text x="203.2" y="267.65" font-size="6.0" text-anchor="end" font-weight="normal" fill="#111" stroke="#111" stroke-width="0.22">100</text>
<text transform="translate(186.5 278.2) rotate(-90)" font-size="6.5" text-anchor="middle" fill="#111" stroke="#111" stroke-width="0.32" textLength="36.5" lengthAdjust="spacingAndGlyphs">% Proliferation</text>
<line x1="214.3" y1="297.2" x2="214.3" y2="299.7" stroke="#02020c" stroke-width="0.8"/>
<text x="214.7" y="308.2" font-size="5.5" text-anchor="middle" font-weight="normal" fill="#111" stroke="#111" stroke-width="0.22">1</text>
<text transform="translate(215.9 313.3) rotate(-90)" font-size="5.85" text-anchor="end" fill="#111" stroke="#111" stroke-width="0.22">MINO</text>
<line x1="225.54" y1="297.2" x2="225.54" y2="299.7" stroke="#02020c" stroke-width="0.8"/>
<text x="225.94" y="308.2" font-size="5.5" text-anchor="middle" font-weight="normal" fill="#111" stroke="#111" stroke-width="0.22">2</text>
<text transform="translate(227.14 313.3) rotate(-90)" font-size="5.85" text-anchor="end" fill="#111" stroke="#111" stroke-width="0.22">UPF1H</text>
<line x1="236.78" y1="297.2" x2="236.78" y2="299.7" stroke="#02020c" stroke-width="0.8"/>
<text x="237.18" y="308.2" font-size="5.5" text-anchor="middle" font-weight="normal" fill="#111" stroke="#111" stroke-width="0.22">3</text>
<text transform="translate(238.38 313.3) rotate(-90)" font-size="5.85" text-anchor="end" fill="#111" stroke="#111" stroke-width="0.22">UPF19U</text>
<line x1="248.02" y1="297.2" x2="248.02" y2="299.7" stroke="#02020c" stroke-width="0.8"/>
<text x="248.42" y="308.2" font-size="5.5" text-anchor="middle" font-weight="normal" fill="#111" stroke="#111" stroke-width="0.22">4</text>
<text transform="translate(249.62 313.3) rotate(-90)" font-size="5.85" text-anchor="end" fill="#111" stroke="#111" stroke-width="0.22">Z138</text>
<line x1="259.26" y1="297.2" x2="259.26" y2="299.7" stroke="#02020c" stroke-width="0.8"/>
<text x="259.66" y="308.2" font-size="5.5" text-anchor="middle" font-weight="normal" fill="#111" stroke="#111" stroke-width="0.22">5</text>
<text transform="translate(260.86 313.3) rotate(-90)" font-size="5.85" text-anchor="end" fill="#111" stroke="#111" stroke-width="0.22">MINO</text>
<line x1="270.5" y1="297.2" x2="270.5" y2="299.7" stroke="#02020c" stroke-width="0.8"/>
<text x="270.9" y="308.2" font-size="5.5" text-anchor="middle" font-weight="normal" fill="#111" stroke="#111" stroke-width="0.22">6</text>
<text transform="translate(272.1 313.3) rotate(-90)" font-size="5.85" text-anchor="end" fill="#111" stroke="#111" stroke-width="0.22">UPF1H</text>
<line x1="281.74" y1="297.2" x2="281.74" y2="299.7" stroke="#02020c" stroke-width="0.8"/>
<text x="282.14" y="308.2" font-size="5.5" text-anchor="middle" font-weight="normal" fill="#111" stroke="#111" stroke-width="0.22">7</text>
<text transform="translate(283.34 313.3) rotate(-90)" font-size="5.85" text-anchor="end" fill="#111" stroke="#111" stroke-width="0.22">UPF19U</text>
<line x1="292.98" y1="297.2" x2="292.98" y2="299.7" stroke="#02020c" stroke-width="0.8"/>
<text x="293.38" y="308.2" font-size="5.5" text-anchor="middle" font-weight="normal" fill="#111" stroke="#111" stroke-width="0.22">8</text>
<text transform="translate(294.58 313.3) rotate(-90)" font-size="5.85" text-anchor="end" fill="#111" stroke="#111" stroke-width="0.22">Z138</text>
<rect x="302.7" y="260.4" width="2.9" height="2.9" fill="#b8062c"/>
<text x="308.1" y="264.2" font-size="5.85" fill="#111" stroke="#111" stroke-width="0.14">CTRL</text>
<rect x="302.7" y="267.3" width="2.9" height="2.9" fill="#0c3f70"/>
<text x="308.1" y="271.1" font-size="5.85" fill="#111" stroke="#111" stroke-width="0.14" textLength="31.2" lengthAdjust="spacingAndGlyphs">PIK3CA UP</text>
</g>
<g>
<text transform="translate(354 242.2) scale(0.8 1)" font-size="10.6" font-weight="bold" fill="#000" stroke="#000" stroke-width="0.32">J</text>
<text x="428.1" y="244.4" font-size="7.8" text-anchor="middle" font-weight="normal" fill="#111" stroke="#111" stroke-width="0.22" textLength="34.6" lengthAdjust="spacingAndGlyphs">AZD8186</text>
<text x="405.1" y="255.3" font-size="6" text-anchor="middle" fill="#1a1a1a" stroke="#1a1a1a" stroke-width="0.1">1 μM</text>
<text x="451.8" y="255.3" font-size="6" text-anchor="middle" fill="#1a1a1a" stroke="#1a1a1a" stroke-width="0.1">10 μM</text>
<line x1="384.6" y1="257.6" x2="424.7" y2="257.6" stroke="#6e5558" stroke-width="0.8"/>
<line x1="384.6" y1="256.4" x2="384.6" y2="258.8" stroke="#9a3040" stroke-width="0.7"/>
<line x1="424.7" y1="256.4" x2="424.7" y2="258.8" stroke="#9a3040" stroke-width="0.7"/>
<line x1="431.1" y1="257.6" x2="470.9" y2="257.6" stroke="#6e5558" stroke-width="0.8"/>
<line x1="431.1" y1="256.4" x2="431.1" y2="258.8" stroke="#9a3040" stroke-width="0.7"/>
<line x1="470.9" y1="256.4" x2="470.9" y2="258.8" stroke="#9a3040" stroke-width="0.7"/>
<line x1="386.45" y1="272.24" x2="386.45" y2="275.38" stroke="#b8485e" stroke-width="0.65"/>
<line x1="385.35" y1="272.24" x2="387.55" y2="272.24" stroke="#7a3844" stroke-width="0.7"/>
<rect x="384.5" y="275.08" width="3.9" height="22.12" fill="#c8002e"/>
<line x1="390.35" y1="269.71" x2="390.35" y2="272.54" stroke="#3d5f86" stroke-width="0.65"/>
<line x1="389.25" y1="269.71" x2="391.45" y2="269.71" stroke="#2c3f58" stroke-width="0.7"/>
<rect x="388.4" y="272.24" width="3.9" height="24.96" fill="#0e4a80"/>
<line x1="397.69" y1="287.4" x2="397.69" y2="290.55" stroke="#b8485e" stroke-width="0.65"/>
<line x1="396.59" y1="287.4" x2="398.79" y2="287.4" stroke="#7a3844" stroke-width="0.7"/>
<rect x="395.74" y="290.25" width="3.9" height="6.95" fill="#c8002e"/>
<line x1="401.59" y1="285.82" x2="401.59" y2="287.7" stroke="#3d5f86" stroke-width="0.65"/>
<line x1="400.49" y1="285.82" x2="402.69" y2="285.82" stroke="#2c3f58" stroke-width="0.7"/>
<rect x="399.64" y="287.4" width="3.9" height="9.8" fill="#0e4a80"/>
<line x1="408.93" y1="274.76" x2="408.93" y2="276.64" stroke="#b8485e" stroke-width="0.65"/>
<line x1="407.83" y1="274.76" x2="410.03" y2="274.76" stroke="#7a3844" stroke-width="0.7"/>
<rect x="406.98" y="276.34" width="3.9" height="20.86" fill="#c8002e"/>
<line x1="412.83" y1="276.03" x2="412.83" y2="277.28" stroke="#3d5f86" stroke-width="0.65"/>
<line x1="411.73" y1="276.03" x2="413.93" y2="276.03" stroke="#2c3f58" stroke-width="0.7"/>
<rect x="410.88" y="276.98" width="3.9" height="20.22" fill="#0e4a80"/>
<line x1="420.17" y1="274.13" x2="420.17" y2="278.86" stroke="#b8485e" stroke-width="0.65"/>
<line x1="419.07" y1="274.13" x2="421.27" y2="274.13" stroke="#7a3844" stroke-width="0.7"/>
<rect x="418.22" y="278.56" width="3.9" height="18.64" fill="#c8002e"/>
<line x1="424.07" y1="271.6" x2="424.07" y2="275.7" stroke="#3d5f86" stroke-width="0.65"/>
<line x1="422.97" y1="271.6" x2="425.17" y2="271.6" stroke="#2c3f58" stroke-width="0.7"/>
<rect x="422.12" y="275.4" width="3.9" height="21.8" fill="#0e4a80"/>
<line x1="431.41" y1="279.19" x2="431.41" y2="282.33" stroke="#b8485e" stroke-width="0.65"/>
<line x1="430.31" y1="279.19" x2="432.51" y2="279.19" stroke="#7a3844" stroke-width="0.7"/>
<rect x="429.46" y="282.03" width="3.9" height="15.17" fill="#c8002e"/>
<line x1="435.31" y1="272.55" x2="435.31" y2="276.33" stroke="#3d5f86" stroke-width="0.65"/>
<line x1="434.21" y1="272.55" x2="436.41" y2="272.55" stroke="#2c3f58" stroke-width="0.7"/>
<rect x="433.36" y="276.03" width="3.9" height="21.17" fill="#0e4a80"/>
<line x1="442.65" y1="292.46" x2="442.65" y2="293.55" stroke="#b8485e" stroke-width="0.65"/>
<line x1="441.55" y1="292.46" x2="443.75" y2="292.46" stroke="#7a3844" stroke-width="0.7"/>
<rect x="440.7" y="293.25" width="3.9" height="3.95" fill="#c8002e"/>
<line x1="446.55" y1="290.88" x2="446.55" y2="293.55" stroke="#3d5f86" stroke-width="0.65"/>
<line x1="445.45" y1="290.88" x2="447.65" y2="290.88" stroke="#2c3f58" stroke-width="0.7"/>
<rect x="444.6" y="293.25" width="3.9" height="3.95" fill="#0e4a80"/>
<line x1="453.89" y1="275.4" x2="453.89" y2="279.49" stroke="#b8485e" stroke-width="0.65"/>
<line x1="452.79" y1="275.4" x2="454.99" y2="275.4" stroke="#7a3844" stroke-width="0.7"/>
<rect x="451.94" y="279.19" width="3.9" height="18.01" fill="#c8002e"/>
<line x1="457.79" y1="275.4" x2="457.79" y2="278.86" stroke="#3d5f86" stroke-width="0.65"/>
<line x1="456.69" y1="275.4" x2="458.89" y2="275.4" stroke="#2c3f58" stroke-width="0.7"/>
<rect x="455.84" y="278.56" width="3.9" height="18.64" fill="#0e4a80"/>
<line x1="465.13" y1="281.08" x2="465.13" y2="284.39" stroke="#b8485e" stroke-width="0.65"/>
<line x1="464.03" y1="281.08" x2="466.23" y2="281.08" stroke="#7a3844" stroke-width="0.7"/>
<rect x="463.18" y="284.09" width="3.9" height="13.11" fill="#c8002e"/>
<line x1="469.03" y1="279.19" x2="469.03" y2="283.28" stroke="#3d5f86" stroke-width="0.65"/>
<line x1="467.93" y1="279.19" x2="470.13" y2="279.19" stroke="#2c3f58" stroke-width="0.7"/>
<rect x="467.08" y="282.98" width="3.9" height="14.22" fill="#0e4a80"/>
<line x1="382.1" y1="259.08" x2="382.1" y2="297.7" stroke="#02020c" stroke-width="1.5"/>
<line x1="380" y1="297.2" x2="473.5" y2="297.2" stroke="#02020c" stroke-width="1.0"/>
<line x1="379.3" y1="297.2" x2="381.8" y2="297.2" stroke="#02020c" stroke-width="0.8"/>
<text x="377.1" y="299.25" font-size="6.0" text-anchor="end" font-weight="normal" fill="#111" stroke="#111" stroke-width="0.22">0</text>
<line x1="379.3" y1="281.4" x2="381.8" y2="281.4" stroke="#02020c" stroke-width="0.8"/>
<text x="377.1" y="283.45" font-size="6.0" text-anchor="end" font-weight="normal" fill="#111" stroke="#111" stroke-width="0.22">50</text>
<line x1="379.3" y1="265.6" x2="381.8" y2="265.6" stroke="#02020c" stroke-width="0.8"/>
<text x="377.1" y="267.65" font-size="6.0" text-anchor="end" font-weight="normal" fill="#111" stroke="#111" stroke-width="0.22">100</text>
<text transform="translate(360.4 278.2) rotate(-90)" font-size="6.5" text-anchor="middle" fill="#111" stroke="#111" stroke-width="0.32" textLength="36.5" lengthAdjust="spacingAndGlyphs">% Proliferation</text>
<line x1="388.2" y1="297.2" x2="388.2" y2="299.7" stroke="#02020c" stroke-width="0.8"/>
<text x="388.6" y="308.2" font-size="5.5" text-anchor="middle" font-weight="normal" fill="#111" stroke="#111" stroke-width="0.22">1</text>
<text transform="translate(389.8 313.3) rotate(-90)" font-size="5.85" text-anchor="end" fill="#111" stroke="#111" stroke-width="0.22">MINO</text>
<line x1="399.44" y1="297.2" x2="399.44" y2="299.7" stroke="#02020c" stroke-width="0.8"/>
<text x="399.84" y="308.2" font-size="5.5" text-anchor="middle" font-weight="normal" fill="#111" stroke="#111" stroke-width="0.22">2</text>
<text transform="translate(401.04 313.3) rotate(-90)" font-size="5.85" text-anchor="end" fill="#111" stroke="#111" stroke-width="0.22">UPF1H</text>
<line x1="410.68" y1="297.2" x2="410.68" y2="299.7" stroke="#02020c" stroke-width="0.8"/>
<text x="411.08" y="308.2" font-size="5.5" text-anchor="middle" font-weight="normal" fill="#111" stroke="#111" stroke-width="0.22">3</text>
<text transform="translate(412.28 313.3) rotate(-90)" font-size="5.85" text-anchor="end" fill="#111" stroke="#111" stroke-width="0.22">UPF19U</text>
<line x1="421.92" y1="297.2" x2="421.92" y2="299.7" stroke="#02020c" stroke-width="0.8"/>
<text x="422.32" y="308.2" font-size="5.5" text-anchor="middle" font-weight="normal" fill="#111" stroke="#111" stroke-width="0.22">4</text>
<text transform="translate(423.52 313.3) rotate(-90)" font-size="5.85" text-anchor="end" fill="#111" stroke="#111" stroke-width="0.22">Z138</text>
<line x1="433.16" y1="297.2" x2="433.16" y2="299.7" stroke="#02020c" stroke-width="0.8"/>
<text x="433.56" y="308.2" font-size="5.5" text-anchor="middle" font-weight="normal" fill="#111" stroke="#111" stroke-width="0.22">5</text>
<text transform="translate(434.76 313.3) rotate(-90)" font-size="5.85" text-anchor="end" fill="#111" stroke="#111" stroke-width="0.22">MINO</text>
<line x1="444.4" y1="297.2" x2="444.4" y2="299.7" stroke="#02020c" stroke-width="0.8"/>
<text x="444.8" y="308.2" font-size="5.5" text-anchor="middle" font-weight="normal" fill="#111" stroke="#111" stroke-width="0.22">6</text>
<text transform="translate(446 313.3) rotate(-90)" font-size="5.85" text-anchor="end" fill="#111" stroke="#111" stroke-width="0.22">UPF1H</text>
<line x1="455.64" y1="297.2" x2="455.64" y2="299.7" stroke="#02020c" stroke-width="0.8"/>
<text x="456.04" y="308.2" font-size="5.5" text-anchor="middle" font-weight="normal" fill="#111" stroke="#111" stroke-width="0.22">7</text>
<text transform="translate(457.24 313.3) rotate(-90)" font-size="5.85" text-anchor="end" fill="#111" stroke="#111" stroke-width="0.22">UPF19U</text>
<line x1="466.88" y1="297.2" x2="466.88" y2="299.7" stroke="#02020c" stroke-width="0.8"/>
<text x="467.28" y="308.2" font-size="5.5" text-anchor="middle" font-weight="normal" fill="#111" stroke="#111" stroke-width="0.22">8</text>
<text transform="translate(468.48 313.3) rotate(-90)" font-size="5.85" text-anchor="end" fill="#111" stroke="#111" stroke-width="0.22">Z138</text>
<rect x="476.6" y="260.4" width="2.9" height="2.9" fill="#b8062c"/>
<text x="482" y="264.2" font-size="5.85" fill="#111" stroke="#111" stroke-width="0.14">CTRL</text>
<rect x="476.6" y="267.3" width="2.9" height="2.9" fill="#0c3f70"/>
<text x="482" y="271.1" font-size="5.85" fill="#111" stroke="#111" stroke-width="0.14" textLength="31.2" lengthAdjust="spacingAndGlyphs">PIK3CA UP</text>
</g>
<g>
<text transform="translate(6.6 359.9) scale(1 1)" font-size="10.6" font-weight="bold" fill="#000" stroke="#000" stroke-width="0.32">K</text>
<text x="80" y="362.1" font-size="7.8" text-anchor="middle" font-weight="normal" fill="#111" stroke="#111" stroke-width="0.22" textLength="47.9" lengthAdjust="spacingAndGlyphs">COPANLISIB</text>
<text x="57" y="373" font-size="6" text-anchor="middle" fill="#1a1a1a" stroke="#1a1a1a" stroke-width="0.1">0.01 μM</text>
<text x="103.7" y="373" font-size="6" text-anchor="middle" fill="#1a1a1a" stroke="#1a1a1a" stroke-width="0.1">0.1 μM</text>
<line x1="36.5" y1="375.3" x2="76.6" y2="375.3" stroke="#6e5558" stroke-width="0.8"/>
<line x1="36.5" y1="374.1" x2="36.5" y2="376.5" stroke="#9a3040" stroke-width="0.7"/>
<line x1="76.6" y1="374.1" x2="76.6" y2="376.5" stroke="#9a3040" stroke-width="0.7"/>
<line x1="83" y1="375.3" x2="122.8" y2="375.3" stroke="#6e5558" stroke-width="0.8"/>
<line x1="83" y1="374.1" x2="83" y2="376.5" stroke="#9a3040" stroke-width="0.7"/>
<line x1="122.8" y1="374.1" x2="122.8" y2="376.5" stroke="#9a3040" stroke-width="0.7"/>
<line x1="38.35" y1="382.98" x2="38.35" y2="386.13" stroke="#b8485e" stroke-width="0.65"/>
<line x1="37.25" y1="382.98" x2="39.45" y2="382.98" stroke="#7a3844" stroke-width="0.7"/>
<rect x="36.4" y="385.83" width="3.9" height="29.07" fill="#c8002e"/>
<line x1="42.25" y1="385.83" x2="42.25" y2="388.34" stroke="#3d5f86" stroke-width="0.65"/>
<line x1="41.15" y1="385.83" x2="43.35" y2="385.83" stroke="#2c3f58" stroke-width="0.7"/>
<rect x="40.3" y="388.04" width="3.9" height="26.86" fill="#0e4a80"/>
<line x1="49.59" y1="397.2" x2="49.59" y2="401.3" stroke="#b8485e" stroke-width="0.65"/>
<line x1="48.49" y1="397.2" x2="50.69" y2="397.2" stroke="#7a3844" stroke-width="0.7"/>
<rect x="47.64" y="401" width="3.9" height="13.9" fill="#c8002e"/>
<line x1="53.49" y1="399.1" x2="53.49" y2="400.66" stroke="#3d5f86" stroke-width="0.65"/>
<line x1="52.39" y1="399.1" x2="54.59" y2="399.1" stroke="#2c3f58" stroke-width="0.7"/>
<rect x="51.54" y="400.36" width="3.9" height="14.54" fill="#0e4a80"/>
<line x1="60.83" y1="385.83" x2="60.83" y2="389.29" stroke="#b8485e" stroke-width="0.65"/>
<line x1="59.73" y1="385.83" x2="61.93" y2="385.83" stroke="#7a3844" stroke-width="0.7"/>
<rect x="58.88" y="388.99" width="3.9" height="25.91" fill="#c8002e"/>
<line x1="64.73" y1="386.78" x2="64.73" y2="389.29" stroke="#3d5f86" stroke-width="0.65"/>
<line x1="63.63" y1="386.78" x2="65.83" y2="386.78" stroke="#2c3f58" stroke-width="0.7"/>
<rect x="62.78" y="388.99" width="3.9" height="25.91" fill="#0e4a80"/>
<line x1="72.07" y1="388.36" x2="72.07" y2="394.34" stroke="#b8485e" stroke-width="0.65"/>
<line x1="70.97" y1="388.36" x2="73.17" y2="388.36" stroke="#7a3844" stroke-width="0.7"/>
<rect x="70.12" y="394.04" width="3.9" height="20.86" fill="#c8002e"/>
<line x1="75.97" y1="389.3" x2="75.97" y2="396.56" stroke="#3d5f86" stroke-width="0.65"/>
<line x1="74.87" y1="389.3" x2="77.07" y2="389.3" stroke="#2c3f58" stroke-width="0.7"/>
<rect x="74.02" y="396.26" width="3.9" height="18.64" fill="#0e4a80"/>
<line x1="83.31" y1="396.89" x2="83.31" y2="398.14" stroke="#b8485e" stroke-width="0.65"/>
<line x1="82.21" y1="396.89" x2="84.41" y2="396.89" stroke="#7a3844" stroke-width="0.7"/>
<rect x="81.36" y="397.84" width="3.9" height="17.06" fill="#c8002e"/>
<line x1="87.21" y1="390.57" x2="87.21" y2="393.71" stroke="#3d5f86" stroke-width="0.65"/>
<line x1="86.11" y1="390.57" x2="88.31" y2="390.57" stroke="#2c3f58" stroke-width="0.7"/>
<rect x="85.26" y="393.41" width="3.9" height="21.49" fill="#0e4a80"/>
<text x="87.21" y="391.67" font-size="4.5" text-anchor="middle" fill="#2e1014" stroke="#2e1014" stroke-width="0.12">*</text>
<text x="87.21" y="389.57" font-size="4.5" text-anchor="middle" fill="#2e1014" stroke="#2e1014" stroke-width="0.12">*</text>
<line x1="94.55" y1="410.16" x2="94.55" y2="411.41" stroke="#b8485e" stroke-width="0.65"/>
<line x1="93.45" y1="410.16" x2="95.65" y2="410.16" stroke="#7a3844" stroke-width="0.7"/>
<rect x="92.6" y="411.11" width="3.9" height="3.79" fill="#c8002e"/>
<line x1="98.45" y1="408.58" x2="98.45" y2="410.14" stroke="#3d5f86" stroke-width="0.65"/>
<line x1="97.35" y1="408.58" x2="99.55" y2="408.58" stroke="#2c3f58" stroke-width="0.7"/>
<rect x="96.5" y="409.84" width="3.9" height="5.06" fill="#0e4a80"/>
<line x1="105.79" y1="394.68" x2="105.79" y2="397.19" stroke="#b8485e" stroke-width="0.65"/>
<line x1="104.69" y1="394.68" x2="106.89" y2="394.68" stroke="#7a3844" stroke-width="0.7"/>
<rect x="103.84" y="396.89" width="3.9" height="18.01" fill="#c8002e"/>
<line x1="109.69" y1="393.1" x2="109.69" y2="395.92" stroke="#3d5f86" stroke-width="0.65"/>
<line x1="108.59" y1="393.1" x2="110.79" y2="393.1" stroke="#2c3f58" stroke-width="0.7"/>
<rect x="107.74" y="395.62" width="3.9" height="19.28" fill="#0e4a80"/>
<line x1="117.03" y1="402.26" x2="117.03" y2="406.98" stroke="#b8485e" stroke-width="0.65"/>
<line x1="115.93" y1="402.26" x2="118.13" y2="402.26" stroke="#7a3844" stroke-width="0.7"/>
<rect x="115.08" y="406.68" width="3.9" height="8.22" fill="#c8002e"/>
<line x1="120.93" y1="398.78" x2="120.93" y2="404.77" stroke="#3d5f86" stroke-width="0.65"/>
<line x1="119.83" y1="398.78" x2="122.03" y2="398.78" stroke="#2c3f58" stroke-width="0.7"/>
<rect x="118.98" y="404.47" width="3.9" height="10.43" fill="#0e4a80"/>
<line x1="34" y1="376.78" x2="34" y2="415.4" stroke="#02020c" stroke-width="1.5"/>
<line x1="31.9" y1="414.9" x2="125.4" y2="414.9" stroke="#02020c" stroke-width="1.0"/>
<line x1="31.2" y1="414.9" x2="33.7" y2="414.9" stroke="#02020c" stroke-width="0.8"/>
<text x="29" y="416.95" font-size="6.0" text-anchor="end" font-weight="normal" fill="#111" stroke="#111" stroke-width="0.22">0</text>
<line x1="31.2" y1="399.1" x2="33.7" y2="399.1" stroke="#02020c" stroke-width="0.8"/>
<text x="29" y="401.15" font-size="6.0" text-anchor="end" font-weight="normal" fill="#111" stroke="#111" stroke-width="0.22">50</text>
<line x1="31.2" y1="383.3" x2="33.7" y2="383.3" stroke="#02020c" stroke-width="0.8"/>
<text x="29" y="385.35" font-size="6.0" text-anchor="end" font-weight="normal" fill="#111" stroke="#111" stroke-width="0.22">100</text>
<text transform="translate(12.3 395.9) rotate(-90)" font-size="6.5" text-anchor="middle" fill="#111" stroke="#111" stroke-width="0.32" textLength="36.5" lengthAdjust="spacingAndGlyphs">% Proliferation</text>
<line x1="40.1" y1="414.9" x2="40.1" y2="417.4" stroke="#02020c" stroke-width="0.8"/>
<text x="40.5" y="425.9" font-size="5.5" text-anchor="middle" font-weight="normal" fill="#111" stroke="#111" stroke-width="0.22">1</text>
<text transform="translate(41.7 431) rotate(-90)" font-size="5.85" text-anchor="end" fill="#111" stroke="#111" stroke-width="0.22">MINO</text>
<line x1="51.34" y1="414.9" x2="51.34" y2="417.4" stroke="#02020c" stroke-width="0.8"/>
<text x="51.74" y="425.9" font-size="5.5" text-anchor="middle" font-weight="normal" fill="#111" stroke="#111" stroke-width="0.22">2</text>
<text transform="translate(52.94 431) rotate(-90)" font-size="5.85" text-anchor="end" fill="#111" stroke="#111" stroke-width="0.22">UPF1H</text>
<line x1="62.58" y1="414.9" x2="62.58" y2="417.4" stroke="#02020c" stroke-width="0.8"/>
<text x="62.98" y="425.9" font-size="5.5" text-anchor="middle" font-weight="normal" fill="#111" stroke="#111" stroke-width="0.22">3</text>
<text transform="translate(64.18 431) rotate(-90)" font-size="5.85" text-anchor="end" fill="#111" stroke="#111" stroke-width="0.22">UPF19U</text>
<line x1="73.82" y1="414.9" x2="73.82" y2="417.4" stroke="#02020c" stroke-width="0.8"/>
<text x="74.22" y="425.9" font-size="5.5" text-anchor="middle" font-weight="normal" fill="#111" stroke="#111" stroke-width="0.22">4</text>
<text transform="translate(75.42 431) rotate(-90)" font-size="5.85" text-anchor="end" fill="#111" stroke="#111" stroke-width="0.22">Z138</text>
<line x1="85.06" y1="414.9" x2="85.06" y2="417.4" stroke="#02020c" stroke-width="0.8"/>
<text x="85.46" y="425.9" font-size="5.5" text-anchor="middle" font-weight="normal" fill="#111" stroke="#111" stroke-width="0.22">5</text>
<text transform="translate(86.66 431) rotate(-90)" font-size="5.85" text-anchor="end" fill="#111" stroke="#111" stroke-width="0.22">MINO</text>
<line x1="96.3" y1="414.9" x2="96.3" y2="417.4" stroke="#02020c" stroke-width="0.8"/>
<text x="96.7" y="425.9" font-size="5.5" text-anchor="middle" font-weight="normal" fill="#111" stroke="#111" stroke-width="0.22">6</text>
<text transform="translate(97.9 431) rotate(-90)" font-size="5.85" text-anchor="end" fill="#111" stroke="#111" stroke-width="0.22">UPF1H</text>
<line x1="107.54" y1="414.9" x2="107.54" y2="417.4" stroke="#02020c" stroke-width="0.8"/>
<text x="107.94" y="425.9" font-size="5.5" text-anchor="middle" font-weight="normal" fill="#111" stroke="#111" stroke-width="0.22">7</text>
<text transform="translate(109.14 431) rotate(-90)" font-size="5.85" text-anchor="end" fill="#111" stroke="#111" stroke-width="0.22">UPF19U</text>
<line x1="118.78" y1="414.9" x2="118.78" y2="417.4" stroke="#02020c" stroke-width="0.8"/>
<text x="119.18" y="425.9" font-size="5.5" text-anchor="middle" font-weight="normal" fill="#111" stroke="#111" stroke-width="0.22">8</text>
<text transform="translate(120.38 431) rotate(-90)" font-size="5.85" text-anchor="end" fill="#111" stroke="#111" stroke-width="0.22">Z138</text>
<rect x="128.5" y="378.1" width="2.9" height="2.9" fill="#b8062c"/>
<text x="133.9" y="381.9" font-size="5.85" fill="#111" stroke="#111" stroke-width="0.14">CTRL</text>
<rect x="128.5" y="385" width="2.9" height="2.9" fill="#0c3f70"/>
<text x="133.9" y="388.8" font-size="5.85" fill="#111" stroke="#111" stroke-width="0.14" textLength="31.2" lengthAdjust="spacingAndGlyphs">PIK3CA UP</text>
</g>
<g>
<text transform="translate(180.8 359.9) scale(1 1)" font-size="10.6" font-weight="bold" fill="#000" stroke="#000" stroke-width="0.32">L</text>
<text x="254.2" y="362.1" font-size="7.8" text-anchor="middle" font-weight="normal" fill="#111" stroke="#111" stroke-width="0.22" textLength="39.7" lengthAdjust="spacingAndGlyphs">DUVELISIB</text>
<text x="231.2" y="373" font-size="6" text-anchor="middle" fill="#1a1a1a" stroke="#1a1a1a" stroke-width="0.1">1 μM</text>
<text x="277.9" y="373" font-size="6" text-anchor="middle" fill="#1a1a1a" stroke="#1a1a1a" stroke-width="0.1">10 μM</text>
<line x1="210.7" y1="375.3" x2="250.8" y2="375.3" stroke="#6e5558" stroke-width="0.8"/>
<line x1="210.7" y1="374.1" x2="210.7" y2="376.5" stroke="#9a3040" stroke-width="0.7"/>
<line x1="250.8" y1="374.1" x2="250.8" y2="376.5" stroke="#9a3040" stroke-width="0.7"/>
<line x1="257.2" y1="375.3" x2="297" y2="375.3" stroke="#6e5558" stroke-width="0.8"/>
<line x1="257.2" y1="374.1" x2="257.2" y2="376.5" stroke="#9a3040" stroke-width="0.7"/>
<line x1="297" y1="374.1" x2="297" y2="376.5" stroke="#9a3040" stroke-width="0.7"/>
<line x1="212.55" y1="384.56" x2="212.55" y2="388.02" stroke="#b8485e" stroke-width="0.65"/>
<line x1="211.45" y1="384.56" x2="213.65" y2="384.56" stroke="#7a3844" stroke-width="0.7"/>
<rect x="210.6" y="387.72" width="3.9" height="27.18" fill="#c8002e"/>
<line x1="216.45" y1="386.78" x2="216.45" y2="388.66" stroke="#3d5f86" stroke-width="0.65"/>
<line x1="215.35" y1="386.78" x2="217.55" y2="386.78" stroke="#2c3f58" stroke-width="0.7"/>
<rect x="214.5" y="388.36" width="3.9" height="26.54" fill="#0e4a80"/>
<line x1="223.79" y1="401.94" x2="223.79" y2="403.51" stroke="#b8485e" stroke-width="0.65"/>
<line x1="222.69" y1="401.94" x2="224.89" y2="401.94" stroke="#7a3844" stroke-width="0.7"/>
<rect x="221.84" y="403.21" width="3.9" height="11.69" fill="#c8002e"/>
<line x1="227.69" y1="397.52" x2="227.69" y2="401.61" stroke="#3d5f86" stroke-width="0.65"/>
<line x1="226.59" y1="397.52" x2="228.79" y2="397.52" stroke="#2c3f58" stroke-width="0.7"/>
<rect x="225.74" y="401.31" width="3.9" height="13.59" fill="#0e4a80"/>
<line x1="235.03" y1="389.94" x2="235.03" y2="393.4" stroke="#b8485e" stroke-width="0.65"/>
<line x1="233.93" y1="389.94" x2="236.13" y2="389.94" stroke="#7a3844" stroke-width="0.7"/>
<rect x="233.08" y="393.1" width="3.9" height="21.8" fill="#c8002e"/>
<line x1="238.93" y1="390.57" x2="238.93" y2="393.4" stroke="#3d5f86" stroke-width="0.65"/>
<line x1="237.83" y1="390.57" x2="240.03" y2="390.57" stroke="#2c3f58" stroke-width="0.7"/>
<rect x="236.98" y="393.1" width="3.9" height="21.8" fill="#0e4a80"/>
<line x1="246.27" y1="388.04" x2="246.27" y2="393.08" stroke="#b8485e" stroke-width="0.65"/>
<line x1="245.17" y1="388.04" x2="247.37" y2="388.04" stroke="#7a3844" stroke-width="0.7"/>
<rect x="244.32" y="392.78" width="3.9" height="22.12" fill="#c8002e"/>
<line x1="250.17" y1="384.88" x2="250.17" y2="390.24" stroke="#3d5f86" stroke-width="0.65"/>
<line x1="249.07" y1="384.88" x2="251.27" y2="384.88" stroke="#2c3f58" stroke-width="0.7"/>
<rect x="248.22" y="389.94" width="3.9" height="24.96" fill="#0e4a80"/>
<line x1="257.51" y1="389.3" x2="257.51" y2="394.98" stroke="#b8485e" stroke-width="0.65"/>
<line x1="256.41" y1="389.3" x2="258.61" y2="389.3" stroke="#7a3844" stroke-width="0.7"/>
<rect x="255.56" y="394.68" width="3.9" height="20.22" fill="#c8002e"/>
<line x1="261.41" y1="389.3" x2="261.41" y2="392.13" stroke="#3d5f86" stroke-width="0.65"/>
<line x1="260.31" y1="389.3" x2="262.51" y2="389.3" stroke="#2c3f58" stroke-width="0.7"/>
<rect x="259.46" y="391.83" width="3.9" height="23.07" fill="#0e4a80"/>
<line x1="268.75" y1="411.11" x2="268.75" y2="412.36" stroke="#b8485e" stroke-width="0.65"/>
<line x1="267.65" y1="411.11" x2="269.85" y2="411.11" stroke="#7a3844" stroke-width="0.7"/>
<rect x="266.8" y="412.06" width="3.9" height="2.84" fill="#c8002e"/>
<line x1="272.65" y1="411.74" x2="272.65" y2="412.67" stroke="#3d5f86" stroke-width="0.65"/>
<line x1="271.55" y1="411.74" x2="273.75" y2="411.74" stroke="#2c3f58" stroke-width="0.7"/>
<rect x="270.7" y="412.37" width="3.9" height="2.53" fill="#0e4a80"/>
<line x1="279.99" y1="394.36" x2="279.99" y2="396.56" stroke="#b8485e" stroke-width="0.65"/>
<line x1="278.89" y1="394.36" x2="281.09" y2="394.36" stroke="#7a3844" stroke-width="0.7"/>
<rect x="278.04" y="396.26" width="3.9" height="18.64" fill="#c8002e"/>
<line x1="283.89" y1="395.31" x2="283.89" y2="397.82" stroke="#3d5f86" stroke-width="0.65"/>
<line x1="282.79" y1="395.31" x2="284.99" y2="395.31" stroke="#2c3f58" stroke-width="0.7"/>
<rect x="281.94" y="397.52" width="3.9" height="17.38" fill="#0e4a80"/>
<line x1="291.23" y1="391.2" x2="291.23" y2="398.77" stroke="#b8485e" stroke-width="0.65"/>
<line x1="290.13" y1="391.2" x2="292.33" y2="391.2" stroke="#7a3844" stroke-width="0.7"/>
<rect x="289.28" y="398.47" width="3.9" height="16.43" fill="#c8002e"/>
<line x1="295.13" y1="395.31" x2="295.13" y2="399.72" stroke="#3d5f86" stroke-width="0.65"/>
<line x1="294.03" y1="395.31" x2="296.23" y2="395.31" stroke="#2c3f58" stroke-width="0.7"/>
<rect x="293.18" y="399.42" width="3.9" height="15.48" fill="#0e4a80"/>
<line x1="208.2" y1="376.78" x2="208.2" y2="415.4" stroke="#02020c" stroke-width="1.5"/>
<line x1="206.1" y1="414.9" x2="299.6" y2="414.9" stroke="#02020c" stroke-width="1.0"/>
<line x1="205.4" y1="414.9" x2="207.9" y2="414.9" stroke="#02020c" stroke-width="0.8"/>
<text x="203.2" y="416.95" font-size="6.0" text-anchor="end" font-weight="normal" fill="#111" stroke="#111" stroke-width="0.22">0</text>
<line x1="205.4" y1="399.1" x2="207.9" y2="399.1" stroke="#02020c" stroke-width="0.8"/>
<text x="203.2" y="401.15" font-size="6.0" text-anchor="end" font-weight="normal" fill="#111" stroke="#111" stroke-width="0.22">50</text>
<line x1="205.4" y1="383.3" x2="207.9" y2="383.3" stroke="#02020c" stroke-width="0.8"/>
<text x="203.2" y="385.35" font-size="6.0" text-anchor="end" font-weight="normal" fill="#111" stroke="#111" stroke-width="0.22">100</text>
<text transform="translate(186.5 395.9) rotate(-90)" font-size="6.5" text-anchor="middle" fill="#111" stroke="#111" stroke-width="0.32" textLength="36.5" lengthAdjust="spacingAndGlyphs">% Proliferation</text>
<line x1="214.3" y1="414.9" x2="214.3" y2="417.4" stroke="#02020c" stroke-width="0.8"/>
<text x="214.7" y="425.9" font-size="5.5" text-anchor="middle" font-weight="normal" fill="#111" stroke="#111" stroke-width="0.22">1</text>
<text transform="translate(215.9 431) rotate(-90)" font-size="5.85" text-anchor="end" fill="#111" stroke="#111" stroke-width="0.22">MINO</text>
<line x1="225.54" y1="414.9" x2="225.54" y2="417.4" stroke="#02020c" stroke-width="0.8"/>
<text x="225.94" y="425.9" font-size="5.5" text-anchor="middle" font-weight="normal" fill="#111" stroke="#111" stroke-width="0.22">2</text>
<text transform="translate(227.14 431) rotate(-90)" font-size="5.85" text-anchor="end" fill="#111" stroke="#111" stroke-width="0.22">UPF1H</text>
<line x1="236.78" y1="414.9" x2="236.78" y2="417.4" stroke="#02020c" stroke-width="0.8"/>
<text x="237.18" y="425.9" font-size="5.5" text-anchor="middle" font-weight="normal" fill="#111" stroke="#111" stroke-width="0.22">3</text>
<text transform="translate(238.38 431) rotate(-90)" font-size="5.85" text-anchor="end" fill="#111" stroke="#111" stroke-width="0.22">UPF19U</text>
<line x1="248.02" y1="414.9" x2="248.02" y2="417.4" stroke="#02020c" stroke-width="0.8"/>
<text x="248.42" y="425.9" font-size="5.5" text-anchor="middle" font-weight="normal" fill="#111" stroke="#111" stroke-width="0.22">4</text>
<text transform="translate(249.62 431) rotate(-90)" font-size="5.85" text-anchor="end" fill="#111" stroke="#111" stroke-width="0.22">Z138</text>
<line x1="259.26" y1="414.9" x2="259.26" y2="417.4" stroke="#02020c" stroke-width="0.8"/>
<text x="259.66" y="425.9" font-size="5.5" text-anchor="middle" font-weight="normal" fill="#111" stroke="#111" stroke-width="0.22">5</text>
<text transform="translate(260.86 431) rotate(-90)" font-size="5.85" text-anchor="end" fill="#111" stroke="#111" stroke-width="0.22">MINO</text>
<line x1="270.5" y1="414.9" x2="270.5" y2="417.4" stroke="#02020c" stroke-width="0.8"/>
<text x="270.9" y="425.9" font-size="5.5" text-anchor="middle" font-weight="normal" fill="#111" stroke="#111" stroke-width="0.22">6</text>
<text transform="translate(272.1 431) rotate(-90)" font-size="5.85" text-anchor="end" fill="#111" stroke="#111" stroke-width="0.22">UPF1H</text>
<line x1="281.74" y1="414.9" x2="281.74" y2="417.4" stroke="#02020c" stroke-width="0.8"/>
<text x="282.14" y="425.9" font-size="5.5" text-anchor="middle" font-weight="normal" fill="#111" stroke="#111" stroke-width="0.22">7</text>
<text transform="translate(283.34 431) rotate(-90)" font-size="5.85" text-anchor="end" fill="#111" stroke="#111" stroke-width="0.22">UPF19U</text>
<line x1="292.98" y1="414.9" x2="292.98" y2="417.4" stroke="#02020c" stroke-width="0.8"/>
<text x="293.38" y="425.9" font-size="5.5" text-anchor="middle" font-weight="normal" fill="#111" stroke="#111" stroke-width="0.22">8</text>
<text transform="translate(294.58 431) rotate(-90)" font-size="5.85" text-anchor="end" fill="#111" stroke="#111" stroke-width="0.22">Z138</text>
<rect x="302.7" y="378.1" width="2.9" height="2.9" fill="#b8062c"/>
<text x="308.1" y="381.9" font-size="5.85" fill="#111" stroke="#111" stroke-width="0.14">CTRL</text>
<rect x="302.7" y="385" width="2.9" height="2.9" fill="#0c3f70"/>
<text x="308.1" y="388.8" font-size="5.85" fill="#111" stroke="#111" stroke-width="0.14" textLength="31.2" lengthAdjust="spacingAndGlyphs">PIK3CA UP</text>
</g>
<g>
<text transform="translate(354.7 359.9) scale(1 1)" font-size="10.6" font-weight="bold" fill="#000" stroke="#000" stroke-width="0.32">M</text>
<text x="428.1" y="362.1" font-size="7.8" text-anchor="middle" font-weight="normal" fill="#111" stroke="#111" stroke-width="0.22" textLength="37.4" lengthAdjust="spacingAndGlyphs">ALPELISIB</text>
<text x="405.1" y="373" font-size="6" text-anchor="middle" fill="#1a1a1a" stroke="#1a1a1a" stroke-width="0.1">1 μM</text>
<text x="451.8" y="373" font-size="6" text-anchor="middle" fill="#1a1a1a" stroke="#1a1a1a" stroke-width="0.1">10 μM</text>
<line x1="384.6" y1="375.3" x2="424.7" y2="375.3" stroke="#6e5558" stroke-width="0.8"/>
<line x1="384.6" y1="374.1" x2="384.6" y2="376.5" stroke="#9a3040" stroke-width="0.7"/>
<line x1="424.7" y1="374.1" x2="424.7" y2="376.5" stroke="#9a3040" stroke-width="0.7"/>
<line x1="431.1" y1="375.3" x2="470.9" y2="375.3" stroke="#6e5558" stroke-width="0.8"/>
<line x1="431.1" y1="374.1" x2="431.1" y2="376.5" stroke="#9a3040" stroke-width="0.7"/>
<line x1="470.9" y1="374.1" x2="470.9" y2="376.5" stroke="#9a3040" stroke-width="0.7"/>
<line x1="386.45" y1="384.56" x2="386.45" y2="385.81" stroke="#b8485e" stroke-width="0.65"/>
<line x1="385.35" y1="384.56" x2="387.55" y2="384.56" stroke="#7a3844" stroke-width="0.7"/>
<rect x="384.5" y="385.51" width="3.9" height="29.39" fill="#c8002e"/>
<line x1="390.35" y1="384.56" x2="390.35" y2="387.71" stroke="#3d5f86" stroke-width="0.65"/>
<line x1="389.25" y1="384.56" x2="391.45" y2="384.56" stroke="#2c3f58" stroke-width="0.7"/>
<rect x="388.4" y="387.41" width="3.9" height="27.49" fill="#0e4a80"/>
<text x="390.35" y="385.66" font-size="4.5" text-anchor="middle" fill="#2e1014" stroke="#2e1014" stroke-width="0.12">*</text>
<line x1="397.69" y1="389.3" x2="397.69" y2="394.98" stroke="#b8485e" stroke-width="0.65"/>
<line x1="396.59" y1="389.3" x2="398.79" y2="389.3" stroke="#7a3844" stroke-width="0.7"/>
<rect x="395.74" y="394.68" width="3.9" height="20.22" fill="#c8002e"/>
<line x1="401.59" y1="391.83" x2="401.59" y2="396.24" stroke="#3d5f86" stroke-width="0.65"/>
<line x1="400.49" y1="391.83" x2="402.69" y2="391.83" stroke="#2c3f58" stroke-width="0.7"/>
<rect x="399.64" y="395.94" width="3.9" height="18.96" fill="#0e4a80"/>
<line x1="408.93" y1="382.98" x2="408.93" y2="385.18" stroke="#b8485e" stroke-width="0.65"/>
<line x1="407.83" y1="382.98" x2="410.03" y2="382.98" stroke="#7a3844" stroke-width="0.7"/>
<rect x="406.98" y="384.88" width="3.9" height="30.02" fill="#c8002e"/>
<line x1="412.83" y1="381.09" x2="412.83" y2="388.66" stroke="#3d5f86" stroke-width="0.65"/>
<line x1="411.73" y1="381.09" x2="413.93" y2="381.09" stroke="#2c3f58" stroke-width="0.7"/>
<rect x="410.88" y="388.36" width="3.9" height="26.54" fill="#0e4a80"/>
<line x1="420.17" y1="385.83" x2="420.17" y2="389.6" stroke="#b8485e" stroke-width="0.65"/>
<line x1="419.07" y1="385.83" x2="421.27" y2="385.83" stroke="#7a3844" stroke-width="0.7"/>
<rect x="418.22" y="389.3" width="3.9" height="25.6" fill="#c8002e"/>
<line x1="424.07" y1="383.62" x2="424.07" y2="387.71" stroke="#3d5f86" stroke-width="0.65"/>
<line x1="422.97" y1="383.62" x2="425.17" y2="383.62" stroke="#2c3f58" stroke-width="0.7"/>
<rect x="422.12" y="387.41" width="3.9" height="27.49" fill="#0e4a80"/>
<line x1="431.41" y1="393.73" x2="431.41" y2="400.66" stroke="#b8485e" stroke-width="0.65"/>
<line x1="430.31" y1="393.73" x2="432.51" y2="393.73" stroke="#7a3844" stroke-width="0.7"/>
<rect x="429.46" y="400.36" width="3.9" height="14.54" fill="#c8002e"/>
<line x1="435.31" y1="394.68" x2="435.31" y2="400.66" stroke="#3d5f86" stroke-width="0.65"/>
<line x1="434.21" y1="394.68" x2="436.41" y2="394.68" stroke="#2c3f58" stroke-width="0.7"/>
<rect x="433.36" y="400.36" width="3.9" height="14.54" fill="#0e4a80"/>
<line x1="442.65" y1="404.16" x2="442.65" y2="408.25" stroke="#b8485e" stroke-width="0.65"/>
<line x1="441.55" y1="404.16" x2="443.75" y2="404.16" stroke="#7a3844" stroke-width="0.7"/>
<rect x="440.7" y="407.95" width="3.9" height="6.95" fill="#c8002e"/>
<line x1="446.55" y1="405.74" x2="446.55" y2="408.25" stroke="#3d5f86" stroke-width="0.65"/>
<line x1="445.45" y1="405.74" x2="447.65" y2="405.74" stroke="#2c3f58" stroke-width="0.7"/>
<rect x="444.6" y="407.95" width="3.9" height="6.95" fill="#0e4a80"/>
<line x1="453.89" y1="391.83" x2="453.89" y2="394.03" stroke="#b8485e" stroke-width="0.65"/>
<line x1="452.79" y1="391.83" x2="454.99" y2="391.83" stroke="#7a3844" stroke-width="0.7"/>
<rect x="451.94" y="393.73" width="3.9" height="21.17" fill="#c8002e"/>
<line x1="457.79" y1="387.72" x2="457.79" y2="398.45" stroke="#3d5f86" stroke-width="0.65"/>
<line x1="456.69" y1="387.72" x2="458.89" y2="387.72" stroke="#2c3f58" stroke-width="0.7"/>
<rect x="455.84" y="398.15" width="3.9" height="16.75" fill="#0e4a80"/>
<line x1="465.13" y1="399.42" x2="465.13" y2="402.56" stroke="#b8485e" stroke-width="0.65"/>
<line x1="464.03" y1="399.42" x2="466.23" y2="399.42" stroke="#7a3844" stroke-width="0.7"/>
<rect x="463.18" y="402.26" width="3.9" height="12.64" fill="#c8002e"/>
<line x1="469.03" y1="397.52" x2="469.03" y2="400.66" stroke="#3d5f86" stroke-width="0.65"/>
<line x1="467.93" y1="397.52" x2="470.13" y2="397.52" stroke="#2c3f58" stroke-width="0.7"/>
<rect x="467.08" y="400.36" width="3.9" height="14.54" fill="#0e4a80"/>
<line x1="382.1" y1="376.78" x2="382.1" y2="415.4" stroke="#02020c" stroke-width="1.5"/>
<line x1="380" y1="414.9" x2="473.5" y2="414.9" stroke="#02020c" stroke-width="1.0"/>
<line x1="379.3" y1="414.9" x2="381.8" y2="414.9" stroke="#02020c" stroke-width="0.8"/>
<text x="377.1" y="416.95" font-size="6.0" text-anchor="end" font-weight="normal" fill="#111" stroke="#111" stroke-width="0.22">0</text>
<line x1="379.3" y1="399.1" x2="381.8" y2="399.1" stroke="#02020c" stroke-width="0.8"/>
<text x="377.1" y="401.15" font-size="6.0" text-anchor="end" font-weight="normal" fill="#111" stroke="#111" stroke-width="0.22">50</text>
<line x1="379.3" y1="383.3" x2="381.8" y2="383.3" stroke="#02020c" stroke-width="0.8"/>
<text x="377.1" y="385.35" font-size="6.0" text-anchor="end" font-weight="normal" fill="#111" stroke="#111" stroke-width="0.22">100</text>
<text transform="translate(360.4 395.9) rotate(-90)" font-size="6.5" text-anchor="middle" fill="#111" stroke="#111" stroke-width="0.32" textLength="36.5" lengthAdjust="spacingAndGlyphs">% Proliferation</text>
<line x1="388.2" y1="414.9" x2="388.2" y2="417.4" stroke="#02020c" stroke-width="0.8"/>
<text x="388.6" y="425.9" font-size="5.5" text-anchor="middle" font-weight="normal" fill="#111" stroke="#111" stroke-width="0.22">1</text>
<text transform="translate(389.8 431) rotate(-90)" font-size="5.85" text-anchor="end" fill="#111" stroke="#111" stroke-width="0.22">MINO</text>
<line x1="399.44" y1="414.9" x2="399.44" y2="417.4" stroke="#02020c" stroke-width="0.8"/>
<text x="399.84" y="425.9" font-size="5.5" text-anchor="middle" font-weight="normal" fill="#111" stroke="#111" stroke-width="0.22">2</text>
<text transform="translate(401.04 431) rotate(-90)" font-size="5.85" text-anchor="end" fill="#111" stroke="#111" stroke-width="0.22">UPF1H</text>
<line x1="410.68" y1="414.9" x2="410.68" y2="417.4" stroke="#02020c" stroke-width="0.8"/>
<text x="411.08" y="425.9" font-size="5.5" text-anchor="middle" font-weight="normal" fill="#111" stroke="#111" stroke-width="0.22">3</text>
<text transform="translate(412.28 431) rotate(-90)" font-size="5.85" text-anchor="end" fill="#111" stroke="#111" stroke-width="0.22">UPF19U</text>
<line x1="421.92" y1="414.9" x2="421.92" y2="417.4" stroke="#02020c" stroke-width="0.8"/>
<text x="422.32" y="425.9" font-size="5.5" text-anchor="middle" font-weight="normal" fill="#111" stroke="#111" stroke-width="0.22">4</text>
<text transform="translate(423.52 431) rotate(-90)" font-size="5.85" text-anchor="end" fill="#111" stroke="#111" stroke-width="0.22">Z138</text>
<line x1="433.16" y1="414.9" x2="433.16" y2="417.4" stroke="#02020c" stroke-width="0.8"/>
<text x="433.56" y="425.9" font-size="5.5" text-anchor="middle" font-weight="normal" fill="#111" stroke="#111" stroke-width="0.22">5</text>
<text transform="translate(434.76 431) rotate(-90)" font-size="5.85" text-anchor="end" fill="#111" stroke="#111" stroke-width="0.22">MINO</text>
<line x1="444.4" y1="414.9" x2="444.4" y2="417.4" stroke="#02020c" stroke-width="0.8"/>
<text x="444.8" y="425.9" font-size="5.5" text-anchor="middle" font-weight="normal" fill="#111" stroke="#111" stroke-width="0.22">6</text>
<text transform="translate(446 431) rotate(-90)" font-size="5.85" text-anchor="end" fill="#111" stroke="#111" stroke-width="0.22">UPF1H</text>
<line x1="455.64" y1="414.9" x2="455.64" y2="417.4" stroke="#02020c" stroke-width="0.8"/>
<text x="456.04" y="425.9" font-size="5.5" text-anchor="middle" font-weight="normal" fill="#111" stroke="#111" stroke-width="0.22">7</text>
<text transform="translate(457.24 431) rotate(-90)" font-size="5.85" text-anchor="end" fill="#111" stroke="#111" stroke-width="0.22">UPF19U</text>
<line x1="466.88" y1="414.9" x2="466.88" y2="417.4" stroke="#02020c" stroke-width="0.8"/>
<text x="467.28" y="425.9" font-size="5.5" text-anchor="middle" font-weight="normal" fill="#111" stroke="#111" stroke-width="0.22">8</text>
<text transform="translate(468.48 431) rotate(-90)" font-size="5.85" text-anchor="end" fill="#111" stroke="#111" stroke-width="0.22">Z138</text>
<rect x="476.6" y="378.1" width="2.9" height="2.9" fill="#b8062c"/>
<text x="482" y="381.9" font-size="5.85" fill="#111" stroke="#111" stroke-width="0.14">CTRL</text>
<rect x="476.6" y="385" width="2.9" height="2.9" fill="#0c3f70"/>
<text x="482" y="388.8" font-size="5.85" fill="#111" stroke="#111" stroke-width="0.14" textLength="31.2" lengthAdjust="spacingAndGlyphs">PIK3CA UP</text>
</g>
<g>
<text transform="translate(6.6 477.2) scale(1 1)" font-size="10.6" font-weight="bold" fill="#000" stroke="#000" stroke-width="0.32">N</text>
<text x="80" y="479.4" font-size="7.8" text-anchor="middle" font-weight="normal" fill="#111" stroke="#111" stroke-width="0.22" textLength="56.5" lengthAdjust="spacingAndGlyphs">CAPIVASERTIB</text>
<text x="57" y="490.3" font-size="6" text-anchor="middle" fill="#1a1a1a" stroke="#1a1a1a" stroke-width="0.1">1 μM</text>
<text x="103.7" y="490.3" font-size="6" text-anchor="middle" fill="#1a1a1a" stroke="#1a1a1a" stroke-width="0.1">10 μM</text>
<line x1="36.5" y1="492.6" x2="76.6" y2="492.6" stroke="#6e5558" stroke-width="0.8"/>
<line x1="36.5" y1="491.4" x2="36.5" y2="493.8" stroke="#9a3040" stroke-width="0.7"/>
<line x1="76.6" y1="491.4" x2="76.6" y2="493.8" stroke="#9a3040" stroke-width="0.7"/>
<line x1="83" y1="492.6" x2="122.8" y2="492.6" stroke="#6e5558" stroke-width="0.8"/>
<line x1="83" y1="491.4" x2="83" y2="493.8" stroke="#9a3040" stroke-width="0.7"/>
<line x1="122.8" y1="491.4" x2="122.8" y2="493.8" stroke="#9a3040" stroke-width="0.7"/>
<line x1="38.35" y1="499.34" x2="38.35" y2="502.48" stroke="#b8485e" stroke-width="0.65"/>
<line x1="37.25" y1="499.34" x2="39.45" y2="499.34" stroke="#7a3844" stroke-width="0.7"/>
<rect x="36.4" y="502.18" width="3.9" height="30.02" fill="#c8002e"/>
<line x1="42.25" y1="503.13" x2="42.25" y2="505.64" stroke="#3d5f86" stroke-width="0.65"/>
<line x1="41.15" y1="503.13" x2="43.35" y2="503.13" stroke="#2c3f58" stroke-width="0.7"/>
<rect x="40.3" y="505.34" width="3.9" height="26.86" fill="#0e4a80"/>
<line x1="49.59" y1="507.87" x2="49.59" y2="513.86" stroke="#b8485e" stroke-width="0.65"/>
<line x1="48.49" y1="507.87" x2="50.69" y2="507.87" stroke="#7a3844" stroke-width="0.7"/>
<rect x="47.64" y="513.56" width="3.9" height="18.64" fill="#c8002e"/>
<line x1="53.49" y1="510.08" x2="53.49" y2="512.59" stroke="#3d5f86" stroke-width="0.65"/>
<line x1="52.39" y1="510.08" x2="54.59" y2="510.08" stroke="#2c3f58" stroke-width="0.7"/>
<rect x="51.54" y="512.29" width="3.9" height="19.91" fill="#0e4a80"/>
<line x1="60.83" y1="502.18" x2="60.83" y2="504.69" stroke="#b8485e" stroke-width="0.65"/>
<line x1="59.73" y1="502.18" x2="61.93" y2="502.18" stroke="#7a3844" stroke-width="0.7"/>
<rect x="58.88" y="504.39" width="3.9" height="27.81" fill="#c8002e"/>
<line x1="64.73" y1="503.13" x2="64.73" y2="505.01" stroke="#3d5f86" stroke-width="0.65"/>
<line x1="63.63" y1="503.13" x2="65.83" y2="503.13" stroke="#2c3f58" stroke-width="0.7"/>
<rect x="62.78" y="504.71" width="3.9" height="27.49" fill="#0e4a80"/>
<line x1="72.07" y1="507.87" x2="72.07" y2="510.06" stroke="#b8485e" stroke-width="0.65"/>
<line x1="70.97" y1="507.87" x2="73.17" y2="507.87" stroke="#7a3844" stroke-width="0.7"/>
<rect x="70.12" y="509.76" width="3.9" height="22.44" fill="#c8002e"/>
<line x1="75.97" y1="507.24" x2="75.97" y2="511.33" stroke="#3d5f86" stroke-width="0.65"/>
<line x1="74.87" y1="507.24" x2="77.07" y2="507.24" stroke="#2c3f58" stroke-width="0.7"/>
<rect x="74.02" y="511.03" width="3.9" height="21.17" fill="#0e4a80"/>
<line x1="83.31" y1="499.97" x2="83.31" y2="507.54" stroke="#b8485e" stroke-width="0.65"/>
<line x1="82.21" y1="499.97" x2="84.41" y2="499.97" stroke="#7a3844" stroke-width="0.7"/>
<rect x="81.36" y="507.24" width="3.9" height="24.96" fill="#c8002e"/>
<line x1="87.21" y1="508.5" x2="87.21" y2="510.7" stroke="#3d5f86" stroke-width="0.65"/>
<line x1="86.11" y1="508.5" x2="88.31" y2="508.5" stroke="#2c3f58" stroke-width="0.7"/>
<rect x="85.26" y="510.4" width="3.9" height="21.8" fill="#0e4a80"/>
<line x1="94.55" y1="523.04" x2="94.55" y2="526.18" stroke="#b8485e" stroke-width="0.65"/>
<line x1="93.45" y1="523.04" x2="95.65" y2="523.04" stroke="#7a3844" stroke-width="0.7"/>
<rect x="92.6" y="525.88" width="3.9" height="6.32" fill="#c8002e"/>
<line x1="98.45" y1="523.04" x2="98.45" y2="524.6" stroke="#3d5f86" stroke-width="0.65"/>
<line x1="97.35" y1="523.04" x2="99.55" y2="523.04" stroke="#2c3f58" stroke-width="0.7"/>
<rect x="96.5" y="524.3" width="3.9" height="7.9" fill="#0e4a80"/>
<line x1="105.79" y1="509.45" x2="105.79" y2="512.59" stroke="#b8485e" stroke-width="0.65"/>
<line x1="104.69" y1="509.45" x2="106.89" y2="509.45" stroke="#7a3844" stroke-width="0.7"/>
<rect x="103.84" y="512.29" width="3.9" height="19.91" fill="#c8002e"/>
<line x1="109.69" y1="509.13" x2="109.69" y2="516.07" stroke="#3d5f86" stroke-width="0.65"/>
<line x1="108.59" y1="509.13" x2="110.79" y2="509.13" stroke="#2c3f58" stroke-width="0.7"/>
<rect x="107.74" y="515.77" width="3.9" height="16.43" fill="#0e4a80"/>
<line x1="117.03" y1="521.77" x2="117.03" y2="523.02" stroke="#b8485e" stroke-width="0.65"/>
<line x1="115.93" y1="521.77" x2="118.13" y2="521.77" stroke="#7a3844" stroke-width="0.7"/>
<rect x="115.08" y="522.72" width="3.9" height="9.48" fill="#c8002e"/>
<line x1="120.93" y1="518.3" x2="120.93" y2="522.07" stroke="#3d5f86" stroke-width="0.65"/>
<line x1="119.83" y1="518.3" x2="122.03" y2="518.3" stroke="#2c3f58" stroke-width="0.7"/>
<rect x="118.98" y="521.77" width="3.9" height="10.43" fill="#0e4a80"/>
<line x1="34" y1="494.08" x2="34" y2="532.7" stroke="#02020c" stroke-width="1.5"/>
<line x1="31.9" y1="532.2" x2="125.4" y2="532.2" stroke="#02020c" stroke-width="1.0"/>
<line x1="31.2" y1="532.2" x2="33.7" y2="532.2" stroke="#02020c" stroke-width="0.8"/>
<text x="29" y="534.25" font-size="6.0" text-anchor="end" font-weight="normal" fill="#111" stroke="#111" stroke-width="0.22">0</text>
<line x1="31.2" y1="516.4" x2="33.7" y2="516.4" stroke="#02020c" stroke-width="0.8"/>
<text x="29" y="518.45" font-size="6.0" text-anchor="end" font-weight="normal" fill="#111" stroke="#111" stroke-width="0.22">50</text>
<line x1="31.2" y1="500.6" x2="33.7" y2="500.6" stroke="#02020c" stroke-width="0.8"/>
<text x="29" y="502.65" font-size="6.0" text-anchor="end" font-weight="normal" fill="#111" stroke="#111" stroke-width="0.22">100</text>
<text transform="translate(12.3 513.2) rotate(-90)" font-size="6.5" text-anchor="middle" fill="#111" stroke="#111" stroke-width="0.32" textLength="36.5" lengthAdjust="spacingAndGlyphs">% Proliferation</text>
<line x1="40.1" y1="532.2" x2="40.1" y2="534.7" stroke="#02020c" stroke-width="0.8"/>
<text x="40.5" y="543.2" font-size="5.5" text-anchor="middle" font-weight="normal" fill="#111" stroke="#111" stroke-width="0.22">1</text>
<text transform="translate(41.7 548.3) rotate(-90)" font-size="5.85" text-anchor="end" fill="#111" stroke="#111" stroke-width="0.22">MINO</text>
<line x1="51.34" y1="532.2" x2="51.34" y2="534.7" stroke="#02020c" stroke-width="0.8"/>
<text x="51.74" y="543.2" font-size="5.5" text-anchor="middle" font-weight="normal" fill="#111" stroke="#111" stroke-width="0.22">2</text>
<text transform="translate(52.94 548.3) rotate(-90)" font-size="5.85" text-anchor="end" fill="#111" stroke="#111" stroke-width="0.22">UPF1H</text>
<line x1="62.58" y1="532.2" x2="62.58" y2="534.7" stroke="#02020c" stroke-width="0.8"/>
<text x="62.98" y="543.2" font-size="5.5" text-anchor="middle" font-weight="normal" fill="#111" stroke="#111" stroke-width="0.22">3</text>
<text transform="translate(64.18 548.3) rotate(-90)" font-size="5.85" text-anchor="end" fill="#111" stroke="#111" stroke-width="0.22">UPF19U</text>
<line x1="73.82" y1="532.2" x2="73.82" y2="534.7" stroke="#02020c" stroke-width="0.8"/>
<text x="74.22" y="543.2" font-size="5.5" text-anchor="middle" font-weight="normal" fill="#111" stroke="#111" stroke-width="0.22">4</text>
<text transform="translate(75.42 548.3) rotate(-90)" font-size="5.85" text-anchor="end" fill="#111" stroke="#111" stroke-width="0.22">Z138</text>
<line x1="85.06" y1="532.2" x2="85.06" y2="534.7" stroke="#02020c" stroke-width="0.8"/>
<text x="85.46" y="543.2" font-size="5.5" text-anchor="middle" font-weight="normal" fill="#111" stroke="#111" stroke-width="0.22">5</text>
<text transform="translate(86.66 548.3) rotate(-90)" font-size="5.85" text-anchor="end" fill="#111" stroke="#111" stroke-width="0.22">MINO</text>
<line x1="96.3" y1="532.2" x2="96.3" y2="534.7" stroke="#02020c" stroke-width="0.8"/>
<text x="96.7" y="543.2" font-size="5.5" text-anchor="middle" font-weight="normal" fill="#111" stroke="#111" stroke-width="0.22">6</text>
<text transform="translate(97.9 548.3) rotate(-90)" font-size="5.85" text-anchor="end" fill="#111" stroke="#111" stroke-width="0.22">UPF1H</text>
<line x1="107.54" y1="532.2" x2="107.54" y2="534.7" stroke="#02020c" stroke-width="0.8"/>
<text x="107.94" y="543.2" font-size="5.5" text-anchor="middle" font-weight="normal" fill="#111" stroke="#111" stroke-width="0.22">7</text>
<text transform="translate(109.14 548.3) rotate(-90)" font-size="5.85" text-anchor="end" fill="#111" stroke="#111" stroke-width="0.22">UPF19U</text>
<line x1="118.78" y1="532.2" x2="118.78" y2="534.7" stroke="#02020c" stroke-width="0.8"/>
<text x="119.18" y="543.2" font-size="5.5" text-anchor="middle" font-weight="normal" fill="#111" stroke="#111" stroke-width="0.22">8</text>
<text transform="translate(120.38 548.3) rotate(-90)" font-size="5.85" text-anchor="end" fill="#111" stroke="#111" stroke-width="0.22">Z138</text>
<rect x="128.5" y="495.4" width="2.9" height="2.9" fill="#b8062c"/>
<text x="133.9" y="499.2" font-size="5.85" fill="#111" stroke="#111" stroke-width="0.14">CTRL</text>
<rect x="128.5" y="502.3" width="2.9" height="2.9" fill="#0c3f70"/>
<text x="133.9" y="506.1" font-size="5.85" fill="#111" stroke="#111" stroke-width="0.14" textLength="31.2" lengthAdjust="spacingAndGlyphs">PIK3CA UP</text>
</g>
<rect x="0.5" y="0.5" width="519" height="576" fill="none" stroke="#5c5c5c" stroke-width="1"/>
</svg>
</body></html>
